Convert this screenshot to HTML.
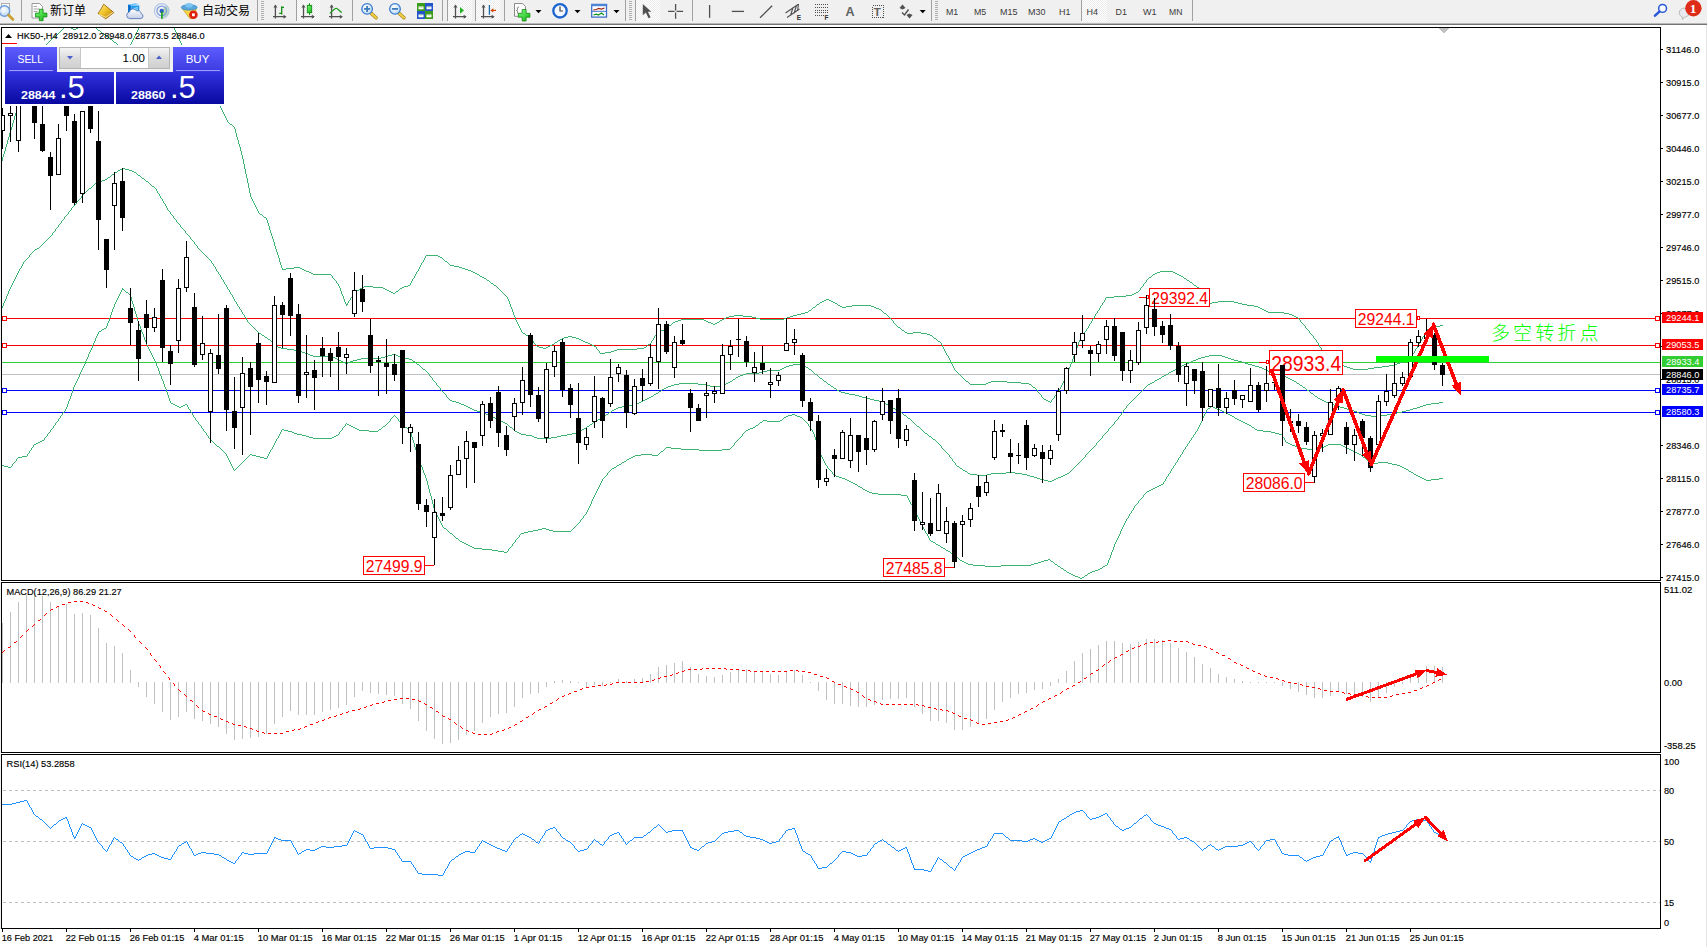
<!DOCTYPE html>
<html lang="zh"><head><meta charset="utf-8"><title>HK50-,H4</title>
<style>html,body{margin:0;padding:0;background:#f0f0f0;overflow:hidden}body{width:1707px;height:947px;position:relative}svg{position:absolute;left:0;top:0;display:block}text{font-family:"Liberation Sans", "Noto Sans CJK SC", sans-serif;white-space:pre}.ax{font-size:9.8px;fill:#000;stroke:#000;stroke-width:.15px}.lb{font-size:9.8px;fill:#fff}.tb{font-size:9.8px;fill:#3a3a3a}.cj{font-size:12px;fill:#000}</style></head><body>
<svg width="1707" height="947" viewBox="0 0 1707 947">
<defs>
<clipPath id="cm"><rect x="2" y="28" width="1658" height="552"/></clipPath>
<clipPath id="cd"><rect x="2" y="583" width="1658" height="169"/></clipPath>
<clipPath id="cr"><rect x="2" y="755" width="1658" height="173"/></clipPath>
<linearGradient id="gb1" x1="0" y1="0" x2="0" y2="1"><stop offset="0" stop-color="#5c5cff"/><stop offset="1" stop-color="#3a3ae0"/></linearGradient>
<linearGradient id="gb2" x1="0" y1="0" x2="0" y2="1"><stop offset="0" stop-color="#3232e0"/><stop offset="1" stop-color="#0808a0"/></linearGradient>
<linearGradient id="gsp" x1="0" y1="0" x2="0" y2="1"><stop offset="0" stop-color="#f4f4f4"/><stop offset="0.5" stop-color="#dcdcdc"/><stop offset="1" stop-color="#cfcfcf"/></linearGradient>
</defs>
<rect x="0" y="0" width="1707" height="947" fill="#f0f0f0"/>
<rect x="0" y="23" width="1707" height="1" fill="#b8b8b8"/>
<rect x="0" y="24" width="1707" height="1" fill="#747474"/>
<rect x="0" y="25" width="1707" height="3" fill="#ffffff"/>
<rect x="2" y="28" width="1705" height="919" fill="#fff"/>
<rect x="0" y="929" width="2" height="18" fill="#fff"/>
<rect x="1706" y="25" width="1" height="922" fill="#e6e6e6"/>
<rect x="0" y="27" width="1" height="902" fill="#f0f0f0"/>
<defs>
<linearGradient id="gold" x1="0" y1="0" x2="1" y2="1"><stop offset="0" stop-color="#fff2a8"/><stop offset=".45" stop-color="#f0c428"/><stop offset="1" stop-color="#b87a0c"/></linearGradient>
<linearGradient id="grn" x1="0" y1="0" x2="1" y2="1"><stop offset="0" stop-color="#80ff80"/><stop offset="1" stop-color="#10b010"/></linearGradient>
<linearGradient id="cld" x1="0" y1="0" x2="0" y2="1"><stop offset="0" stop-color="#ffffff"/><stop offset="1" stop-color="#c4d0e8"/></linearGradient>
<radialGradient id="lens" cx=".4" cy=".35" r=".7"><stop offset="0" stop-color="#ffffff"/><stop offset="1" stop-color="#b8d8f8"/></radialGradient>
<pattern id="chk" width="2" height="2" patternUnits="userSpaceOnUse"><rect width="2" height="2" fill="#ffffff"/><rect width="1" height="1" fill="#ececec"/><rect x="1" y="1" width="1" height="1" fill="#ececec"/></pattern>
</defs>
<g id="toolbar">
<rect x="21" y="0" width="1" height="21" fill="#a0a0a0" shape-rendering="crispEdges"/>
<rect x="257" y="0" width="1" height="21" fill="#a0a0a0" shape-rendering="crispEdges"/>
<rect x="352" y="0" width="1" height="21" fill="#a0a0a0" shape-rendering="crispEdges"/>
<rect x="442" y="0" width="1" height="21" fill="#a0a0a0" shape-rendering="crispEdges"/>
<rect x="504" y="0" width="1" height="21" fill="#a0a0a0" shape-rendering="crispEdges"/>
<rect x="625" y="0" width="1" height="21" fill="#a0a0a0" shape-rendering="crispEdges"/>
<rect x="692" y="0" width="1" height="21" fill="#a0a0a0" shape-rendering="crispEdges"/>
<rect x="931" y="0" width="1" height="21" fill="#a0a0a0" shape-rendering="crispEdges"/>
<rect x="1192" y="0" width="1" height="21" fill="#a0a0a0" shape-rendering="crispEdges"/>
<g shape-rendering="crispEdges" fill="#b0b0b0">
<rect x="261" y="1" width="3" height="1"/>
<rect x="261" y="3" width="3" height="1"/>
<rect x="261" y="5" width="3" height="1"/>
<rect x="261" y="7" width="3" height="1"/>
<rect x="261" y="9" width="3" height="1"/>
<rect x="261" y="11" width="3" height="1"/>
<rect x="261" y="13" width="3" height="1"/>
<rect x="261" y="15" width="3" height="1"/>
<rect x="261" y="17" width="3" height="1"/>
<rect x="261" y="19" width="3" height="1"/>
</g>
<g shape-rendering="crispEdges" fill="#b0b0b0">
<rect x="629" y="1" width="3" height="1"/>
<rect x="629" y="3" width="3" height="1"/>
<rect x="629" y="5" width="3" height="1"/>
<rect x="629" y="7" width="3" height="1"/>
<rect x="629" y="9" width="3" height="1"/>
<rect x="629" y="11" width="3" height="1"/>
<rect x="629" y="13" width="3" height="1"/>
<rect x="629" y="15" width="3" height="1"/>
<rect x="629" y="17" width="3" height="1"/>
<rect x="629" y="19" width="3" height="1"/>
</g>
<g shape-rendering="crispEdges" fill="#b0b0b0">
<rect x="935" y="1" width="3" height="1"/>
<rect x="935" y="3" width="3" height="1"/>
<rect x="935" y="5" width="3" height="1"/>
<rect x="935" y="7" width="3" height="1"/>
<rect x="935" y="9" width="3" height="1"/>
<rect x="935" y="11" width="3" height="1"/>
<rect x="935" y="13" width="3" height="1"/>
<rect x="935" y="15" width="3" height="1"/>
<rect x="935" y="17" width="3" height="1"/>
<rect x="935" y="19" width="3" height="1"/>
</g>
<rect x="1.500" y="3.500" width="8" height="10" fill="#fafafa" stroke="#b0b0b0"/>
<circle cx="4.500" cy="11" r="5.200" fill="url(#lens)" fill-opacity=".85" stroke="#6a9cd8" stroke-width="1.400"/>
<line x1="8.500" y1="15" x2="13" y2="19.500" stroke="#c8a030" stroke-width="2.600" stroke-linecap="round"/>
<path d="M32 3.500h7.500l3 3v11.500h-10.500z" fill="#fdfdfd" stroke="#909090" stroke-width=".9"/>
<path d="M33.500 6.500h3.500M33.500 9h6M33.500 11.500h4" stroke="#a8a8a8" stroke-width="1"/>
<path d="M39.300 9.300h3.800v3.800h3.800v3.800h-3.800v3.800h-3.800v-3.800h-3.800v-3.800h3.800z" fill="url(#grn)" stroke="#108a10" stroke-width=".8"/>
<text class="cj" x="50" y="14.500">新订单</text>
<path d="M103.700 4.200L113.800 12.600L105.800 18.800L98 13.400L101.200 8.800Z" fill="url(#gold)" stroke="#a06c0c" stroke-width=".9"/>
<path d="M99 14.500L105.800 17.300L113 12.400" fill="none" stroke="#fff4c0" stroke-width=".8"/>
<path d="M128 4.500L131.500 5.500V13.500L128 12Z" fill="#0870d0"/>
<path d="M128 4.500L135.500 3.200L139.300 4.300L131.500 5.500Z" fill="#70c8ff"/>
<rect x="131.500" y="5.500" width="7.800" height="8" fill="#1e9cf0"/>
<path d="M133.500 8.500l4.500-.8M133.500 10.500l4.500-.8" stroke="#d0ecff" stroke-width=".9"/>
<path d="M129.600 18.600a3.300 3.300 0 0 1-.3-6.500a3.900 3.900 0 0 1 7.300-1.100a3.200 3.200 0 0 1 4.600 2.700a2.500 2.500 0 0 1-.6 4.900z" fill="url(#cld)" stroke="#5878b8" stroke-width=".9"/>
<path d="M161.700 10.900V18.600A7.700 7.700 0 0 0 166.500 4.900Z" fill="#8cc88c" fill-opacity=".55"/>
<circle cx="161.700" cy="10.900" r="7.300" fill="none" stroke="#b4c6e8" stroke-width="1.100"/>
<circle cx="161.700" cy="10.900" r="4.800" fill="none" stroke="#7c9ce0" stroke-width="1.200"/>
<circle cx="161.700" cy="10.900" r="2.200" fill="#2c5cd0"/>
<rect x="161.100" y="11.500" width="1.600" height="7.300" fill="#18a018"/>
<path d="M182.300 8.500L196.200 8.500L194.500 18.500L189.800 18.500Z" fill="#f8d848" stroke="#c8a020" stroke-width=".8"/>
<ellipse cx="189.200" cy="7.400" rx="7.900" ry="2.700" fill="#58a8e0" stroke="#3684c4" stroke-width=".8"/>
<ellipse cx="189" cy="5.300" rx="3.700" ry="2.300" fill="#7cc4f2"/>
<circle cx="193.400" cy="14.800" r="4.300" fill="#e0200f"/>
<rect x="192" y="13.400" width="2.800" height="2.800" fill="#fff"/>
<text class="cj" x="202" y="14.500">自动交易</text>
<rect x="297" y="0" width="23" height="22" fill="url(#chk)" shape-rendering="crispEdges"/>
<rect x="296" y="0" width="1" height="21" fill="#a0a0a0" shape-rendering="crispEdges"/>
<path d="M275.4 5.500V18.600M273.0 16.700H285.5" stroke="#505050" stroke-width="1.300" fill="none"/>
<path d="M275.4 4.500l-2 3h4z" fill="#505050"/>
<path d="M286.5 16.700l-3-2v4z" fill="#505050"/>
<path d="M281.700 6.300V14.400M281.700 7.300h2.300M281.700 13.400h-2.500" stroke="#109010" stroke-width="1.300" fill="none"/>
<path d="M303.5 5.500V18.600M301.0 16.700H313.8" stroke="#505050" stroke-width="1.300" fill="none"/>
<path d="M303.5 4.500l-2 3h4z" fill="#505050"/>
<path d="M314.8 16.700l-3-2v4z" fill="#505050"/>
<path d="M309.500 3.200V14.800" stroke="#109010" stroke-width="1.100"/>
<rect x="307.300" y="5.400" width="4.400" height="7.300" fill="url(#grn)" stroke="#109010" stroke-width=".9"/>
<path d="M331.6 5.500V18.600M329.0 16.700H341.9" stroke="#505050" stroke-width="1.300" fill="none"/>
<path d="M331.6 4.500l-2 3h4z" fill="#505050"/>
<path d="M342.9 16.700l-3-2v4z" fill="#505050"/>
<path d="M329.900 13.400C333 10 335 8 336.500 8.300S340 11.500 341.800 12.500" stroke="#20a020" stroke-width="1.300" fill="none"/>
<line x1="371.1" y1="13.200" x2="376.1" y2="17.800" stroke="#a88420" stroke-width="3.400" stroke-linecap="round"/>
<line x1="371.1" y1="13.200" x2="376.1" y2="17.800" stroke="#f0d040" stroke-width="2" stroke-linecap="round"/>
<circle cx="367.1" cy="8.900" r="5.300" fill="url(#lens)" stroke="#3c7cd0" stroke-width="1.300"/>
<path d="M364.1 8.900h6" stroke="#3c7cb8" stroke-width="1.800"/>
<path d="M367.1 5.900v6" stroke="#3c7cb8" stroke-width="1.800"/>
<line x1="399.0" y1="13.200" x2="404.0" y2="17.800" stroke="#a88420" stroke-width="3.400" stroke-linecap="round"/>
<line x1="399.0" y1="13.200" x2="404.0" y2="17.800" stroke="#f0d040" stroke-width="2" stroke-linecap="round"/>
<circle cx="395.0" cy="8.900" r="5.300" fill="url(#lens)" stroke="#3c7cd0" stroke-width="1.300"/>
<path d="M392.0 8.900h6" stroke="#3c7cb8" stroke-width="1.800"/>
<rect x="417" y="3" width="8" height="8" fill="#3c9c1c"/><rect x="425" y="3" width="8" height="8" fill="#2454c8"/>
<rect x="417" y="11" width="8" height="8" fill="#2454c8"/><rect x="425" y="11" width="8" height="8" fill="#3c9c1c"/>
<path d="M418.500 7.800h5M426.500 7.800h5M418.500 15.800h5M426.500 15.800h5" stroke="#fff" stroke-width="2.800"/>
<path d="M419.500 7.200h3M427.500 7.200h3M419.500 15.200h3M427.500 15.200h3" stroke="#a8d0a0" stroke-width=".8"/>
<rect x="448" y="0" width="24" height="22" fill="url(#chk)" shape-rendering="crispEdges"/>
<rect x="447" y="0" width="1" height="21" fill="#a0a0a0" shape-rendering="crispEdges"/>
<rect x="476" y="0" width="24" height="22" fill="url(#chk)" shape-rendering="crispEdges"/>
<rect x="475" y="0" width="1" height="21" fill="#a0a0a0" shape-rendering="crispEdges"/>
<path d="M455.5 5.500V18.600M453.0 16.700H465.7" stroke="#505050" stroke-width="1.300" fill="none"/>
<path d="M455.5 4.500l-2 3h4z" fill="#505050"/>
<path d="M466.7 16.700l-3-2v4z" fill="#505050"/>
<polygon points="460,7 460,13.700 464,10.400" fill="#20b020"/>
<path d="M483.5 5.500V18.600M481.0 16.700H493.7" stroke="#505050" stroke-width="1.300" fill="none"/>
<path d="M483.5 4.500l-2 3h4z" fill="#505050"/>
<path d="M494.7 16.700l-3-2v4z" fill="#505050"/>
<path d="M489.400 5V14.700" stroke="#1868a8" stroke-width="1.300"/><path d="M496 10.400h-4" stroke="#d04808" stroke-width="1.200" fill="none"/><path d="M490.300 10.400l3-2.200v4.400z" fill="#d04808"/>
<path d="M514.500 3.500h8l3 3v9.800h-11z" fill="#fbfbfb" stroke="#808080" stroke-width=".9"/>
<path d="M519 7c-1.500 0-1.500 1-1.500 2s0 1.500-1 1.500c1 0 1 .5 1 1.500s0 2 1.500 2" fill="none" stroke="#606060" stroke-width=".8"/>
<path d="M522.200 9.500h3.900v3.800h3.800v3.900h-3.800v3.800h-3.900v-3.800h-3.800v-3.900h3.800z" fill="url(#grn)" stroke="#108a10" stroke-width=".8"/>
<polygon points="535.5,10 541.5,10 538.5,13.2" fill="#000"/>
<circle cx="560" cy="10.800" r="6.700" fill="#f4f8ff" stroke="#1c64d0" stroke-width="2.300"/>
<path d="M560 6.500v4.500h3" stroke="#404040" stroke-width="1.200" fill="none"/>
<polygon points="574.5,10 580.5,10 577.5,13.2" fill="#000"/>
<rect x="591.700" y="4.500" width="14.800" height="12.600" fill="#fff" stroke="#3c70c8" stroke-width="1.300"/>
<rect x="591" y="3.900" width="16.200" height="2.300" fill="#4c84d8"/>
<path d="M592 11.300h14" stroke="#3c70c8" stroke-width="1"/>
<path d="M593.500 9.800l3-.3 2-1.200 3 .8 3-1.100" stroke="#a02010" stroke-width="1.200" fill="none"/>
<path d="M593.500 15l3-.8 2 .8 3-2 2.500 2" stroke="#109020" stroke-width="1.200" fill="none"/>
<polygon points="613.5,10 619.5,10 616.5,13.2" fill="#000"/>
<rect x="636" y="0" width="24" height="22" fill="url(#chk)" shape-rendering="crispEdges"/>
<rect x="635" y="0" width="1" height="21" fill="#a0a0a0" shape-rendering="crispEdges"/>
<path d="M642.800 3.900V15.200L645.800 12.600L648.600 18.200L650.600 17.200L647.900 11.800H651.300Z" fill="#505050"/>
<path d="M675.600 3.900V10.400M675.600 12.400V18.700M668.100 11.400H674.600M676.600 11.400H683.100" stroke="#505050" stroke-width="1.300"/>
<path d="M709.600 5V17.800" stroke="#505050" stroke-width="1.300"/>
<path d="M731.800 11.400H744" stroke="#505050" stroke-width="1.300"/>
<path d="M760 17.800L772.100 5.800" stroke="#505050" stroke-width="1.300"/>
<path d="M785.500 13L798 4.500M787 17.500L799.500 9M790.500 15.500l2.500-8M794 13.500l2.500-8M797.500 11l1-7" stroke="#505050" stroke-width="1.100" fill="none"/>
<text x="796.800" y="19.600" font-size="6.500px" font-weight="bold" fill="#303030">E</text>
<path d="M815 4.500h13M815 7.300h13M815 10.100h13M815 12.900h13M815 15.700h9" stroke="#505050" stroke-width="1" stroke-dasharray="1 1" shape-rendering="crispEdges"/>
<text x="824.600" y="19.600" font-size="6.500px" font-weight="bold" fill="#303030">F</text>
<text x="845.500" y="16" font-size="12.500px" font-weight="bold" fill="#606060">A</text>
<rect x="872.500" y="5.500" width="11" height="12" fill="none" stroke="#505050" stroke-width="1" stroke-dasharray="1 1" shape-rendering="crispEdges"/>
<text x="873.800" y="16" font-size="11.500px" font-weight="bold" fill="#606060">T</text>
<path d="M899.500 8l3-3.500 3 3.500-3 1.500z" fill="#505050"/><path d="M906.500 15l3 3.500 3-3.500-3-1.500z" fill="#505050"/>
<path d="M902 12.500l2.500 2.500 4-5.500" stroke="#505050" stroke-width="1.400" fill="none"/>
<polygon points="919.7,10 925.7,10 922.7,13.2" fill="#000"/>
<rect x="1082" y="0" width="25" height="22" fill="url(#chk)" shape-rendering="crispEdges"/>
<rect x="1081" y="0" width="1" height="21" fill="#a0a0a0" shape-rendering="crispEdges"/>
<text class="tb" x="946.0" y="15" textLength="12.3" lengthAdjust="spacingAndGlyphs">M1</text>
<text class="tb" x="974.0" y="15" textLength="12.3" lengthAdjust="spacingAndGlyphs">M5</text>
<text class="tb" x="1000.0" y="15" textLength="17.4" lengthAdjust="spacingAndGlyphs">M15</text>
<text class="tb" x="1028.0" y="15" textLength="17.4" lengthAdjust="spacingAndGlyphs">M30</text>
<text class="tb" x="1059.0" y="15" textLength="11.4" lengthAdjust="spacingAndGlyphs">H1</text>
<text class="tb" x="1086.5" y="15" textLength="11.4" lengthAdjust="spacingAndGlyphs">H4</text>
<text class="tb" x="1115.5" y="15" textLength="11.4" lengthAdjust="spacingAndGlyphs">D1</text>
<text class="tb" x="1143.0" y="15" textLength="13.5" lengthAdjust="spacingAndGlyphs">W1</text>
<text class="tb" x="1169.0" y="15" textLength="13.4" lengthAdjust="spacingAndGlyphs">MN</text>
<circle cx="1662.600" cy="8.400" r="3.900" fill="#f8f8ff" stroke="#2858d8" stroke-width="1.500"/>
<path d="M1659.400 11.600l-4.400 4" stroke="#2858d8" stroke-width="2.600" stroke-linecap="round"/>
<path d="M1679.300 12.700c0-2.800 2.400-4.600 5-4.600s5 1.800 5 4.600-2.400 4.400-5 4.400l-1.800 2.400-.4-2.700c-1.800-.800-2.800-2.200-2.800-4.100z" fill="#e9e9f0" stroke="#b4b4b4" stroke-width=".9"/>
<circle cx="1693.400" cy="8.200" r="8.200" fill="#de2c18"/>
<text x="1693.200" y="13" font-size="13.500px" font-weight="bold" fill="#fff" text-anchor="middle" style="font-family:'Liberation Serif',serif">1</text>
</g>
<g shape-rendering="crispEdges" fill="#000">
<rect x="1" y="27" width="1660" height="1"/>
<rect x="1" y="27" width="1" height="902"/>
<rect x="1660" y="27" width="1" height="902"/>
<rect x="1" y="580" width="1660" height="1"/>
<rect x="1" y="582" width="1660" height="1"/>
<rect x="1" y="752" width="1660" height="1"/>
<rect x="1" y="754" width="1660" height="1"/>
<rect x="1" y="928" width="1660" height="1"/>
</g>
<rect x="1" y="581" width="1660" height="1" fill="#fff"/>
<rect x="1" y="753" width="1660" height="1" fill="#fff"/>
<g clip-path="url(#cm)">
<g shape-rendering="crispEdges">
<rect x="2" y="318" width="1658" height="1" fill="#ff0000"/>
<rect x="2" y="345" width="1658" height="1" fill="#ff0000"/>
<rect x="2" y="362" width="1658" height="1" fill="#32cd32"/>
<rect x="2" y="374" width="1658" height="1" fill="#c0c0c0"/>
<rect x="2" y="390" width="1658" height="1" fill="#0000ff"/>
<rect x="2" y="412" width="1658" height="1" fill="#0000ff"/>
</g>
<path d="M71 28.5h2M76 28.5h2M73 29.5h3M98 30.5h2M102 33.5h2M54 36.5h2M106 36.5h2M110 39.5h2M114 42.5h2M120 47.5h2M230 124.5h2M260 214.5h2M264 217.5h2M426 255.5h12M438 256.5h2M440 257.5h2M445 261.5h2M450 265.5h4M454 266.5h5M294 267.5h6M459 267.5h3M286 268.5h8M300 268.5h2M462 268.5h3M282 269.5h4M302 269.5h2M465 269.5h3M304 270.5h2M468 270.5h3M306 271.5h3M471 271.5h2M1160 271.5h13M309 272.5h2M473 272.5h2M1157 272.5h3M1173 272.5h2M311 273.5h2M475 273.5h2M1155 273.5h2M1175 273.5h2M313 274.5h18M477 274.5h2M1153 274.5h2M1177 274.5h2M1179 275.5h2M480 276.5h2M1181 276.5h2M482 277.5h2M1149 277.5h2M484 278.5h2M1184 278.5h2M487 280.5h2M1187 280.5h2M1190 282.5h2M491 283.5h2M408 285.5h2M494 285.5h2M1194 285.5h2M364 286.5h9M404 286.5h4M362 287.5h2M373 287.5h10M402 287.5h2M1197 287.5h2M360 288.5h2M383 288.5h2M400 288.5h2M385 289.5h2M357 290.5h2M387 290.5h2M355 291.5h2M389 291.5h2M396 291.5h2M391 292.5h2M1136 292.5h2M393 293.5h2M1134 293.5h2M1132 294.5h2M1126 295.5h6M1114 296.5h12M1106 297.5h8M826 299.5h3M824 300.5h2M829 300.5h2M822 301.5h2M831 301.5h2M1218 301.5h16M820 302.5h2M833 302.5h2M1212 302.5h6M1234 302.5h4M835 303.5h2M1209 303.5h3M1238 303.5h4M346 304.5h2M817 304.5h2M1242 304.5h5M838 305.5h2M852 305.5h19M1247 305.5h7M840 306.5h2M846 306.5h6M871 306.5h3M1254 306.5h4M813 307.5h2M842 307.5h4M874 307.5h2M1258 307.5h2M876 308.5h3M1260 308.5h2M879 309.5h2M1262 309.5h2M809 310.5h2M1264 310.5h2M1266 311.5h2M805 312.5h3M1268 312.5h16M801 313.5h4M884 313.5h2M1284 313.5h5M797 314.5h4M1289 314.5h3M734 315.5h9M793 315.5h4M1292 315.5h2M729 316.5h5M743 316.5h9M790 316.5h3M1294 316.5h2M726 317.5h3M752 317.5h4M787 317.5h3M1296 317.5h2M724 318.5h2M756 318.5h4M784 318.5h3M681 319.5h23M722 319.5h2M760 319.5h24M678 320.5h3M704 320.5h2M720 320.5h2M675 321.5h3M706 321.5h2M673 322.5h2M708 322.5h3M717 322.5h2M711 323.5h2M715 323.5h2M713 324.5h2M669 325.5h2M1440 325.5h3M1436 326.5h4M898 327.5h2M1433 327.5h3M1429 328.5h4M664 329.5h2M1427 329.5h2M661 330.5h3M902 330.5h2M659 331.5h2M657 332.5h2M905 332.5h2M913 332.5h8M523 333.5h2M907 333.5h6M921 333.5h6M927 334.5h3M526 335.5h2M930 335.5h2M568 336.5h4M564 337.5h4M572 337.5h4M562 338.5h2M576 338.5h3M934 338.5h2M560 339.5h2M579 339.5h2M558 340.5h2M581 340.5h2M583 341.5h2M938 341.5h2M555 342.5h2M585 342.5h3M588 343.5h2M552 344.5h2M590 344.5h2M648 344.5h2M550 345.5h2M592 345.5h2M537 346.5h2M548 346.5h2M594 346.5h2M539 347.5h4M546 347.5h2M644 347.5h2M543 348.5h3M637 348.5h7M617 349.5h20M614 350.5h3M611 351.5h3M605 352.5h6M600 353.5h5M1408 357.5h2M1331 359.5h2M1333 360.5h2M1403 361.5h2M1336 362.5h2M1400 362.5h3M1338 363.5h2M1397 363.5h3M1340 364.5h2M1394 364.5h3M1342 365.5h2M1389 365.5h5M1344 366.5h3M1382 366.5h7M1347 367.5h3M1374 367.5h8M1350 368.5h3M1368 368.5h6M1353 369.5h15M966 381.5h2M991 381.5h16M988 382.5h3M1007 382.5h14M986 383.5h2M1021 383.5h8M970 384.5h16M1029 384.5h2M1033 387.5h2M1044 399.5h2M1046 400.5h2M1048 401.5h2M2.5 157v4M3.5 154v3M4.5 151v3M5.5 147v4M6.5 144v3M7.5 140v4M8.5 137v3M9.5 133v4M10.5 130v3M11.5 127v3M12.5 123v4M13.5 120v3M14.5 116v4M15.5 113v3M16.5 111v2M17.5 109v2M18.5 107v2M19.5 104v3M20.5 102v2M21.5 100v2M22.5 98v2M23.5 95v3M24.5 93v2M25.5 91v2M26.5 89v2M27.5 86v3M28.5 84v2M29.5 82v2M30.5 80v2M31.5 77v3M32.5 75v2M33.5 73v2M34.5 70v3M35.5 68v2M36.5 66v2M37.5 64v2M38.5 61v3M39.5 59v2M40.5 57v2M41.5 55v2M42.5 52v3M43.5 50v2M44.5 48v2M45.5 46v2M46.5 44v2M47.5 43v1M48.5 42v1M49.5 41v1M50.5 40v1M51.5 39v1M52.5 38v1M53.5 37v1M56.5 35v1M57.5 34v1M58.5 33v1M59.5 32v1M60.5 31v1M61.5 30v1M62.5 29v1M63.5 28v1M96.5 28v1M97.5 29v1M100.5 31v1M101.5 32v1M104.5 34v1M105.5 35v1M108.5 37v1M109.5 38v1M112.5 40v1M113.5 41v1M116.5 43v1M117.5 44v1M118.5 45v1M119.5 46v1M122.5 48v1M123.5 49v1M124.5 50v1M125.5 49v1M126.5 48v1M127.5 47v1M128.5 46v1M129.5 45v1M130.5 44v1M131.5 42v2M132.5 40v2M133.5 38v2M134.5 36v2M135.5 34v2M136.5 32v2M137.5 30v2M138.5 28v2M174.5 28v2M175.5 30v2M176.5 32v2M177.5 34v2M178.5 36v3M179.5 39v2M180.5 41v2M181.5 43v2M182.5 45v2M183.5 47v1M184.5 48v2M185.5 50v2M186.5 52v1M187.5 53v2M188.5 55v1M189.5 56v2M190.5 58v2M191.5 60v1M192.5 61v2M193.5 63v1M194.5 64v2M195.5 66v2M196.5 68v1M197.5 69v2M198.5 71v1M199.5 72v2M200.5 74v1M201.5 75v2M202.5 77v2M203.5 79v1M204.5 80v2M205.5 82v1M206.5 83v2M207.5 85v2M208.5 87v1M209.5 88v2M210.5 90v1M211.5 91v2M212.5 93v2M213.5 95v1M214.5 96v2M215.5 98v1M216.5 99v2M217.5 101v2M218.5 103v1M219.5 104v2M220.5 106v2M221.5 108v2M222.5 110v2M223.5 112v2M224.5 114v2M225.5 116v2M226.5 118v2M227.5 120v2M228.5 122v1M229.5 123v1M232.5 125v1M233.5 126v1M234.5 127v2M235.5 129v4M236.5 133v4M237.5 137v3M238.5 140v4M239.5 144v3M240.5 147v4M241.5 151v4M242.5 155v4M243.5 159v5M244.5 164v5M245.5 169v5M246.5 174v4M247.5 178v5M248.5 183v5M249.5 188v5M250.5 193v4M251.5 197v2M252.5 199v2M253.5 201v2M254.5 203v2M255.5 205v2M256.5 207v2M257.5 209v2M258.5 211v2M259.5 213v1M262.5 215v1M263.5 216v1M266.5 218v2M267.5 220v3M268.5 223v3M269.5 226v4M270.5 230v3M271.5 233v3M272.5 236v3M273.5 239v3M274.5 242v4M275.5 246v3M276.5 249v3M277.5 252v3M278.5 255v3M279.5 258v4M280.5 262v3M281.5 265v3M282.5 268v1M331.5 275v1M332.5 276v2M333.5 278v1M334.5 279v1M335.5 280v1M336.5 281v2M337.5 283v1M338.5 284v2M339.5 286v2M340.5 288v3M341.5 291v3M342.5 294v2M343.5 296v3M344.5 299v3M345.5 302v2M346.5 305v1M347.5 303v1M348.5 301v2M349.5 300v1M350.5 298v2M351.5 297v1M352.5 295v2M353.5 293v2M354.5 292v1M359.5 289v1M395.5 292v1M398.5 290v1M399.5 289v1M410.5 283v2M411.5 281v2M412.5 279v2M413.5 278v1M414.5 276v2M415.5 274v2M416.5 272v2M417.5 271v1M418.5 269v2M419.5 267v2M420.5 265v2M421.5 263v2M422.5 262v1M423.5 260v2M424.5 258v2M425.5 256v2M442.5 258v1M443.5 259v1M444.5 260v1M447.5 262v1M448.5 263v1M449.5 264v1M479.5 275v1M486.5 279v1M489.5 281v1M490.5 282v1M493.5 284v1M496.5 286v1M497.5 287v1M498.5 288v1M499.5 289v1M500.5 290v1M501.5 291v1M502.5 292v1M503.5 293v1M504.5 294v1M505.5 295v1M506.5 296v1M507.5 297v2M508.5 299v2M509.5 301v3M510.5 304v3M511.5 307v2M512.5 309v3M513.5 312v3M514.5 315v2M515.5 317v3M516.5 320v2M517.5 322v2M518.5 324v2M519.5 326v2M520.5 328v2M521.5 330v2M522.5 332v1M525.5 334v1M528.5 336v1M529.5 337v1M530.5 338v1M531.5 339v1M532.5 340v1M533.5 341v2M534.5 343v1M535.5 344v1M536.5 345v1M554.5 343v1M557.5 341v1M596.5 347v2M597.5 349v1M598.5 350v1M599.5 351v2M646.5 346v1M647.5 345v1M650.5 343v1M651.5 341v2M652.5 340v1M653.5 338v2M654.5 336v2M655.5 335v1M656.5 333v2M666.5 328v1M667.5 327v1M668.5 326v1M671.5 324v1M672.5 323v1M719.5 321v1M808.5 311v1M811.5 309v1M812.5 308v1M815.5 306v1M816.5 305v1M819.5 303v1M837.5 304v1M881.5 310v1M882.5 311v1M883.5 312v1M886.5 314v1M887.5 315v1M888.5 316v1M889.5 317v1M890.5 318v1M891.5 319v1M892.5 320v1M893.5 321v2M894.5 323v1M895.5 324v1M896.5 325v1M897.5 326v1M900.5 328v1M901.5 329v1M904.5 331v1M932.5 336v1M933.5 337v1M936.5 339v1M937.5 340v1M940.5 342v1M941.5 343v2M942.5 345v2M943.5 347v2M944.5 349v2M945.5 351v2M946.5 353v2M947.5 355v1M948.5 356v2M949.5 358v2M950.5 360v2M951.5 362v2M952.5 364v2M953.5 366v2M954.5 368v2M955.5 370v1M956.5 371v1M957.5 372v1M958.5 373v1M959.5 374v1M960.5 375v1M961.5 376v1M962.5 377v1M963.5 378v1M964.5 379v1M965.5 380v1M968.5 382v1M969.5 383v1M1031.5 385v1M1032.5 386v1M1035.5 388v1M1036.5 389v1M1037.5 390v2M1038.5 392v1M1039.5 393v1M1040.5 394v1M1041.5 395v2M1042.5 397v1M1043.5 398v1M1050.5 402v1M1051.5 400v2M1052.5 399v1M1053.5 398v1M1054.5 396v2M1055.5 395v1M1056.5 394v1M1057.5 392v2M1058.5 391v1M1059.5 389v2M1060.5 387v2M1061.5 385v2M1062.5 383v2M1063.5 381v2M1064.5 379v2M1065.5 376v3M1066.5 374v2M1067.5 371v3M1068.5 369v2M1069.5 367v2M1070.5 364v3M1071.5 362v2M1072.5 359v3M1073.5 356v3M1074.5 353v3M1075.5 351v2M1076.5 348v3M1077.5 345v3M1078.5 342v3M1079.5 340v2M1080.5 338v2M1081.5 337v1M1082.5 335v2M1083.5 334v1M1084.5 332v2M1085.5 331v1M1086.5 329v2M1087.5 328v1M1088.5 326v2M1089.5 324v2M1090.5 323v1M1091.5 321v2M1092.5 319v2M1093.5 318v1M1094.5 316v2M1095.5 314v2M1096.5 313v1M1097.5 311v2M1098.5 310v1M1099.5 308v2M1100.5 306v2M1101.5 305v1M1102.5 303v2M1103.5 302v1M1104.5 300v2M1105.5 298v2M1138.5 291v1M1139.5 290v1M1140.5 288v2M1141.5 287v1M1142.5 286v1M1143.5 284v2M1144.5 283v1M1145.5 282v1M1146.5 280v2M1147.5 279v1M1148.5 278v1M1151.5 276v1M1152.5 275v1M1183.5 277v1M1186.5 279v1M1189.5 281v1M1192.5 283v1M1193.5 284v1M1196.5 286v1M1199.5 288v1M1200.5 289v2M1201.5 291v1M1202.5 292v2M1203.5 294v1M1204.5 295v2M1205.5 297v1M1206.5 298v2M1207.5 300v1M1208.5 301v2M1298.5 318v1M1299.5 319v1M1300.5 320v2M1301.5 322v1M1302.5 323v1M1303.5 324v1M1304.5 325v1M1305.5 326v2M1306.5 328v1M1307.5 329v1M1308.5 330v1M1309.5 331v2M1310.5 333v1M1311.5 334v1M1312.5 335v1M1313.5 336v2M1314.5 338v1M1315.5 339v1M1316.5 340v2M1317.5 342v1M1318.5 343v2M1319.5 345v2M1320.5 347v1M1321.5 348v2M1322.5 350v1M1323.5 351v1M1324.5 352v1M1325.5 353v1M1326.5 354v1M1327.5 355v1M1328.5 356v1M1329.5 357v1M1330.5 358v1M1335.5 361v1M1405.5 360v1M1406.5 359v1M1407.5 358v1M1410.5 356v1M1411.5 355v1M1412.5 354v1M1413.5 353v1M1414.5 351v2M1415.5 349v2M1416.5 348v1M1417.5 346v2M1418.5 344v2M1419.5 342v2M1420.5 341v1M1421.5 339v2M1422.5 337v2M1423.5 336v1M1424.5 334v2M1425.5 332v2M1426.5 330v2" fill="none" stroke="#3cb371" stroke-width="1" shape-rendering="crispEdges"/>
<path d="M122 168.5h3M120 169.5h2M125 169.5h4M118 170.5h2M129 170.5h3M132 171.5h2M115 172.5h2M134 172.5h2M112 174.5h2M138 175.5h2M108 177.5h2M142 178.5h2M105 179.5h2M102 180.5h3M100 181.5h2M146 181.5h2M97 182.5h3M95 183.5h2M152 186.5h2M89 188.5h2M37 248.5h2M35 249.5h2M259 333.5h2M262 335.5h2M265 337.5h2M268 339.5h2M274 344.5h2M278 347.5h3M281 348.5h6M287 349.5h7M294 350.5h6M300 351.5h2M302 352.5h3M305 353.5h3M308 354.5h2M392 354.5h4M310 355.5h3M388 355.5h4M396 355.5h2M1209 355.5h13M313 356.5h20M385 356.5h3M398 356.5h3M1205 356.5h4M1222 356.5h3M333 357.5h2M381 357.5h4M401 357.5h4M1201 357.5h4M1225 357.5h3M335 358.5h2M361 358.5h20M405 358.5h4M1198 358.5h3M1228 358.5h3M337 359.5h2M357 359.5h4M409 359.5h3M1196 359.5h2M1231 359.5h3M339 360.5h2M353 360.5h4M1193 360.5h3M1234 360.5h4M341 361.5h2M350 361.5h3M413 361.5h2M1191 361.5h2M1238 361.5h4M343 362.5h2M348 362.5h2M1189 362.5h2M1242 362.5h3M345 363.5h3M1186 363.5h3M1245 363.5h3M417 364.5h2M793 364.5h9M1184 364.5h2M1248 364.5h4M789 365.5h4M802 365.5h2M1182 365.5h2M1252 365.5h3M786 366.5h3M804 366.5h2M1180 366.5h2M1255 366.5h4M784 367.5h2M806 367.5h2M1178 367.5h2M1259 367.5h3M782 368.5h2M1176 368.5h2M1262 368.5h2M423 369.5h2M780 369.5h2M809 369.5h2M1264 369.5h2M767 370.5h13M1173 370.5h2M1266 370.5h2M1270 370.5h2M763 371.5h4M1171 371.5h2M1268 371.5h2M1272 371.5h2M759 372.5h4M1169 372.5h2M1274 372.5h3M746 373.5h13M1277 373.5h2M743 374.5h3M815 374.5h2M1166 374.5h2M1279 374.5h2M740 375.5h3M1164 375.5h2M1281 375.5h2M738 376.5h2M1162 376.5h2M1283 376.5h3M736 377.5h2M1286 377.5h2M820 378.5h2M1159 378.5h2M1288 378.5h2M733 379.5h2M1157 379.5h2M1290 379.5h2M1155 380.5h2M1292 380.5h2M730 381.5h2M824 381.5h2M1294 381.5h2M728 382.5h2M1152 382.5h2M679 383.5h19M726 383.5h2M1150 383.5h2M1297 383.5h2M674 384.5h5M698 384.5h8M724 384.5h2M828 384.5h2M1148 384.5h2M671 385.5h3M706 385.5h4M722 385.5h2M1300 385.5h2M668 386.5h3M710 386.5h12M831 386.5h2M666 387.5h2M1303 387.5h2M664 388.5h2M834 388.5h2M662 389.5h2M837 390.5h2M1307 390.5h2M659 391.5h2M839 391.5h2M841 392.5h4M656 393.5h2M845 393.5h4M1311 393.5h2M654 394.5h2M849 394.5h6M855 395.5h4M651 396.5h2M859 396.5h3M1315 396.5h2M649 397.5h2M862 397.5h4M647 398.5h2M866 398.5h4M1318 398.5h2M645 399.5h2M870 399.5h4M1320 399.5h2M450 400.5h2M643 400.5h2M874 400.5h5M1322 400.5h2M452 401.5h4M641 401.5h2M879 401.5h3M1324 401.5h2M456 402.5h3M639 402.5h2M882 402.5h2M1326 402.5h2M1439 402.5h4M459 403.5h2M636 403.5h3M884 403.5h2M1328 403.5h3M1431 403.5h8M461 404.5h3M634 404.5h2M886 404.5h2M1331 404.5h3M1426 404.5h5M464 405.5h2M628 405.5h6M888 405.5h2M1334 405.5h3M1423 405.5h3M466 406.5h2M622 406.5h6M1337 406.5h3M1420 406.5h3M468 407.5h2M618 407.5h4M891 407.5h2M1340 407.5h4M1417 407.5h3M470 408.5h2M616 408.5h2M893 408.5h2M1344 408.5h3M1413 408.5h4M472 409.5h2M614 409.5h2M1347 409.5h4M1410 409.5h3M474 410.5h3M612 410.5h2M896 410.5h2M1351 410.5h3M1406 410.5h4M477 411.5h4M898 411.5h2M1354 411.5h3M1402 411.5h4M481 412.5h3M609 412.5h2M900 412.5h2M1357 412.5h2M1397 412.5h5M484 413.5h2M1359 413.5h3M1393 413.5h4M486 414.5h3M606 414.5h2M1362 414.5h3M1387 414.5h6M489 415.5h2M604 415.5h2M904 415.5h2M1365 415.5h6M1379 415.5h8M491 416.5h2M1371 416.5h8M493 417.5h2M601 417.5h2M495 418.5h2M908 418.5h2M497 419.5h2M598 419.5h2M499 420.5h2M596 420.5h2M501 421.5h2M503 422.5h2M593 422.5h2M505 423.5h2M590 424.5h2M587 426.5h2M917 426.5h2M510 427.5h2M584 428.5h2M582 429.5h2M515 431.5h2M579 431.5h2M517 432.5h2M576 432.5h3M519 433.5h2M572 433.5h4M925 433.5h2M521 434.5h5M567 434.5h5M526 435.5h6M561 435.5h6M532 436.5h2M557 436.5h4M929 436.5h2M534 437.5h3M551 437.5h6M537 438.5h14M933 439.5h2M957 466.5h2M960 468.5h2M963 470.5h2M965 471.5h2M1006 472.5h9M968 473.5h2M991 473.5h15M1015 473.5h7M1067 473.5h2M970 474.5h7M987 474.5h4M1022 474.5h5M1065 474.5h2M977 475.5h10M1027 475.5h3M1063 475.5h2M1030 476.5h4M1061 476.5h2M1034 477.5h3M1058 477.5h3M1037 478.5h3M1056 478.5h2M1040 479.5h4M1054 479.5h2M1044 480.5h4M1052 480.5h2M1048 481.5h4M2.5 306v2M3.5 303v3M4.5 301v2M5.5 299v2M6.5 296v3M7.5 294v2M8.5 291v3M9.5 289v2M10.5 287v2M11.5 285v2M12.5 283v2M13.5 281v2M14.5 279v2M15.5 277v2M16.5 275v2M17.5 273v2M18.5 271v2M19.5 269v2M20.5 268v1M21.5 266v2M22.5 264v2M23.5 262v2M24.5 261v1M25.5 260v1M26.5 259v1M27.5 258v1M28.5 257v1M29.5 255v2M30.5 254v1M31.5 253v1M32.5 252v1M33.5 251v1M34.5 250v1M39.5 247v1M40.5 246v1M41.5 245v1M42.5 244v1M43.5 243v1M44.5 242v1M45.5 241v1M46.5 240v1M47.5 239v1M48.5 238v1M49.5 237v1M50.5 236v1M51.5 235v1M52.5 233v2M53.5 232v1M54.5 231v1M55.5 229v2M56.5 228v1M57.5 227v1M58.5 225v2M59.5 224v1M60.5 223v1M61.5 221v2M62.5 220v1M63.5 219v1M64.5 217v2M65.5 216v1M66.5 215v1M67.5 214v1M68.5 212v2M69.5 211v1M70.5 210v1M71.5 208v2M72.5 207v1M73.5 206v1M74.5 205v1M75.5 204v1M76.5 202v2M77.5 201v1M78.5 200v1M79.5 199v1M80.5 198v1M81.5 196v2M82.5 195v1M83.5 194v1M84.5 193v1M85.5 192v1M86.5 191v1M87.5 190v1M88.5 189v1M91.5 187v1M92.5 186v1M93.5 185v1M94.5 184v1M107.5 178v1M110.5 176v1M111.5 175v1M114.5 173v1M117.5 171v1M136.5 173v1M137.5 174v1M140.5 176v1M141.5 177v1M144.5 179v1M145.5 180v1M148.5 182v1M149.5 183v1M150.5 184v1M151.5 185v1M154.5 187v1M155.5 188v1M156.5 189v2M157.5 191v2M158.5 193v1M159.5 194v2M160.5 196v2M161.5 198v1M162.5 199v2M163.5 201v2M164.5 203v1M165.5 204v2M166.5 206v2M167.5 208v2M168.5 210v1M169.5 211v1M170.5 212v2M171.5 214v1M172.5 215v1M173.5 216v2M174.5 218v1M175.5 219v1M176.5 220v2M177.5 222v1M178.5 223v1M179.5 224v1M180.5 225v2M181.5 227v1M182.5 228v1M183.5 229v1M184.5 230v1M185.5 231v2M186.5 233v1M187.5 234v1M188.5 235v1M189.5 236v1M190.5 237v2M191.5 239v1M192.5 240v1M193.5 241v1M194.5 242v2M195.5 244v1M196.5 245v1M197.5 246v2M198.5 248v1M199.5 249v1M200.5 250v1M201.5 251v1M202.5 252v1M203.5 253v1M204.5 254v1M205.5 255v1M206.5 256v1M207.5 257v1M208.5 258v1M209.5 259v1M210.5 260v1M211.5 261v2M212.5 263v1M213.5 264v2M214.5 266v1M215.5 267v2M216.5 269v2M217.5 271v1M218.5 272v2M219.5 274v1M220.5 275v2M221.5 277v2M222.5 279v1M223.5 280v2M224.5 282v2M225.5 284v1M226.5 285v2M227.5 287v2M228.5 289v1M229.5 290v2M230.5 292v2M231.5 294v1M232.5 295v2M233.5 297v2M234.5 299v2M235.5 301v1M236.5 302v2M237.5 304v2M238.5 306v1M239.5 307v2M240.5 309v1M241.5 310v2M242.5 312v2M243.5 314v1M244.5 315v2M245.5 317v1M246.5 318v2M247.5 320v2M248.5 322v1M249.5 323v1M250.5 324v1M251.5 325v1M252.5 326v1M253.5 327v1M254.5 328v1M255.5 329v1M256.5 330v1M257.5 331v1M258.5 332v1M261.5 334v1M264.5 336v1M267.5 338v1M270.5 340v1M271.5 341v1M272.5 342v1M273.5 343v1M276.5 345v1M277.5 346v1M412.5 360v1M415.5 362v1M416.5 363v1M419.5 365v1M420.5 366v1M421.5 367v1M422.5 368v1M425.5 370v1M426.5 371v1M427.5 372v1M428.5 373v1M429.5 374v2M430.5 376v1M431.5 377v1M432.5 378v2M433.5 380v1M434.5 381v1M435.5 382v1M436.5 383v2M437.5 385v1M438.5 386v1M439.5 387v1M440.5 388v2M441.5 390v1M442.5 391v1M443.5 392v1M444.5 393v1M445.5 394v1M446.5 395v2M447.5 397v1M448.5 398v1M449.5 399v1M507.5 424v1M508.5 425v1M509.5 426v1M512.5 428v1M513.5 429v1M514.5 430v1M581.5 430v1M586.5 427v1M589.5 425v1M592.5 423v1M595.5 421v1M600.5 418v1M603.5 416v1M608.5 413v1M611.5 411v1M653.5 395v1M658.5 392v1M661.5 390v1M732.5 380v1M735.5 378v1M808.5 368v1M811.5 370v1M812.5 371v1M813.5 372v1M814.5 373v1M817.5 375v1M818.5 376v1M819.5 377v1M822.5 379v1M823.5 380v1M826.5 382v1M827.5 383v1M830.5 385v1M833.5 387v1M836.5 389v1M890.5 406v1M895.5 409v1M902.5 413v1M903.5 414v1M906.5 416v1M907.5 417v1M910.5 419v1M911.5 420v1M912.5 421v1M913.5 422v1M914.5 423v1M915.5 424v1M916.5 425v1M919.5 427v1M920.5 428v1M921.5 429v1M922.5 430v1M923.5 431v1M924.5 432v1M927.5 434v1M928.5 435v1M931.5 437v1M932.5 438v1M935.5 440v1M936.5 441v1M937.5 442v1M938.5 443v1M939.5 444v1M940.5 445v1M941.5 446v2M942.5 448v1M943.5 449v1M944.5 450v1M945.5 451v1M946.5 452v1M947.5 453v1M948.5 454v1M949.5 455v2M950.5 457v1M951.5 458v1M952.5 459v2M953.5 461v1M954.5 462v1M955.5 463v2M956.5 465v1M959.5 467v1M962.5 469v1M967.5 472v1M1069.5 472v1M1070.5 471v1M1071.5 470v1M1072.5 469v1M1073.5 468v1M1074.5 467v1M1075.5 466v1M1076.5 465v1M1077.5 464v1M1078.5 463v1M1079.5 462v1M1080.5 461v1M1081.5 460v1M1082.5 459v1M1083.5 458v1M1084.5 457v1M1085.5 455v2M1086.5 454v1M1087.5 453v1M1088.5 452v1M1089.5 451v1M1090.5 450v1M1091.5 449v1M1092.5 448v1M1093.5 447v1M1094.5 446v1M1095.5 445v1M1096.5 443v2M1097.5 442v1M1098.5 441v1M1099.5 440v1M1100.5 439v1M1101.5 438v1M1102.5 436v2M1103.5 435v1M1104.5 434v1M1105.5 433v1M1106.5 432v1M1107.5 431v1M1108.5 429v2M1109.5 428v1M1110.5 427v1M1111.5 426v1M1112.5 425v1M1113.5 424v1M1114.5 422v2M1115.5 421v1M1116.5 420v1M1117.5 419v1M1118.5 417v2M1119.5 416v1M1120.5 415v1M1121.5 413v2M1122.5 412v1M1123.5 410v2M1124.5 409v1M1125.5 408v1M1126.5 406v2M1127.5 405v1M1128.5 404v1M1129.5 403v1M1130.5 402v1M1131.5 401v1M1132.5 400v1M1133.5 399v1M1134.5 398v1M1135.5 397v1M1136.5 396v1M1137.5 395v1M1138.5 394v1M1139.5 393v1M1140.5 392v1M1141.5 391v1M1142.5 390v1M1143.5 389v1M1144.5 388v1M1145.5 387v1M1146.5 386v1M1147.5 385v1M1154.5 381v1M1161.5 377v1M1168.5 373v1M1175.5 369v1M1296.5 382v1M1299.5 384v1M1302.5 386v1M1305.5 388v1M1306.5 389v1M1309.5 391v1M1310.5 392v1M1313.5 394v1M1314.5 395v1M1317.5 397v1" fill="none" stroke="#3cb371" stroke-width="1" shape-rendering="crispEdges"/>
<path d="M122 289.5h2M126 292.5h2M104 328.5h2M102 329.5h2M99 331.5h2M171 403.5h2M173 404.5h2M185 404.5h2M175 405.5h2M183 405.5h2M177 406.5h2M181 406.5h2M1211 406.5h2M179 407.5h2M1213 407.5h2M1208 408.5h2M1215 408.5h2M1217 409.5h3M1220 410.5h2M1222 411.5h2M1224 412.5h2M1226 413.5h2M792 414.5h3M1228 414.5h2M788 415.5h4M795 415.5h2M1230 415.5h2M786 416.5h2M797 416.5h3M1232 416.5h2M784 417.5h2M800 417.5h2M1235 418.5h2M1237 419.5h2M763 420.5h4M780 420.5h2M1239 420.5h2M767 421.5h13M1241 421.5h2M760 422.5h2M1243 422.5h2M1245 423.5h2M347 424.5h2M1247 424.5h2M349 425.5h2M756 425.5h2M1249 425.5h2M351 426.5h2M383 426.5h2M353 427.5h2M405 427.5h2M753 427.5h2M1252 427.5h2M355 428.5h2M750 428.5h3M282 429.5h2M357 429.5h2M379 429.5h2M748 429.5h2M1255 429.5h2M284 430.5h4M359 430.5h10M746 430.5h2M1257 430.5h6M288 431.5h4M369 431.5h9M1263 431.5h8M292 432.5h2M1271 432.5h4M294 433.5h3M1275 433.5h4M297 434.5h5M1279 434.5h3M302 435.5h4M336 435.5h2M306 436.5h3M334 436.5h2M309 437.5h4M332 437.5h2M313 438.5h19M42 440.5h2M40 441.5h2M38 442.5h2M1286 442.5h2M36 443.5h2M1288 443.5h2M34 444.5h2M1290 444.5h2M1328 444.5h13M1292 445.5h3M1326 445.5h2M1341 445.5h2M217 446.5h2M1295 446.5h2M1324 446.5h2M1343 446.5h2M666 447.5h5M1297 447.5h4M1319 447.5h5M1345 447.5h2M671 448.5h10M1301 448.5h6M1313 448.5h6M1347 448.5h2M681 449.5h18M722 449.5h8M1307 449.5h6M1349 449.5h2M699 450.5h23M1351 450.5h2M661 451.5h2M1353 451.5h2M1355 452.5h2M1357 453.5h2M250 454.5h2M641 454.5h11M1359 454.5h2M252 455.5h4M635 455.5h6M652 455.5h6M22 456.5h5M256 456.5h4M633 456.5h2M18 457.5h4M260 457.5h4M631 457.5h2M1363 457.5h2M264 458.5h3M629 458.5h2M627 459.5h2M624 461.5h2M1368 461.5h2M622 462.5h2M1378 462.5h10M1371 463.5h7M1388 463.5h4M619 464.5h2M1392 464.5h5M2 465.5h2M617 465.5h2M1397 465.5h3M4 466.5h4M1400 466.5h2M8 467.5h3M614 467.5h2M1402 467.5h2M612 468.5h2M1404 468.5h2M1406 469.5h2M1409 471.5h2M1411 472.5h2M1414 474.5h2M834 475.5h2M1416 475.5h2M836 476.5h3M1418 476.5h2M839 477.5h3M1420 477.5h2M842 478.5h3M1422 478.5h2M1439 478.5h4M845 479.5h2M1424 479.5h2M1431 479.5h8M847 480.5h2M1426 480.5h5M849 481.5h2M851 482.5h2M853 483.5h2M855 484.5h2M1161 484.5h2M1159 485.5h2M858 486.5h2M1157 486.5h2M860 487.5h2M1155 487.5h2M1153 488.5h2M863 489.5h2M1151 489.5h2M865 490.5h2M1149 490.5h2M867 491.5h2M1147 491.5h2M869 492.5h3M872 493.5h6M878 494.5h23M901 495.5h6M444 528.5h2M542 528.5h4M538 529.5h4M546 529.5h3M533 530.5h5M549 530.5h4M528 531.5h5M553 531.5h18M524 532.5h4M450 533.5h2M521 533.5h3M456 538.5h2M460 541.5h2M931 541.5h2M462 542.5h2M933 542.5h2M464 543.5h2M466 544.5h2M936 544.5h2M468 545.5h2M938 545.5h2M470 546.5h2M472 547.5h2M941 547.5h2M474 548.5h8M943 548.5h2M482 549.5h10M492 550.5h6M946 550.5h2M498 551.5h6M948 551.5h2M504 552.5h3M952 554.5h2M956 557.5h2M1048 559.5h2M960 560.5h2M1044 560.5h4M962 561.5h2M1041 561.5h3M1051 561.5h2M964 562.5h2M1038 562.5h3M966 563.5h2M1034 563.5h4M968 564.5h5M1031 564.5h3M1055 564.5h2M973 565.5h12M1001 565.5h30M1105 565.5h2M985 566.5h16M1058 566.5h2M1103 566.5h2M1061 568.5h2M1100 568.5h2M1098 569.5h2M1064 570.5h2M1095 570.5h3M1092 571.5h3M1067 572.5h2M1090 572.5h2M1069 573.5h2M1088 573.5h2M1071 574.5h2M1073 575.5h2M1085 575.5h2M1075 576.5h3M1078 577.5h2M1082 577.5h2M1080 578.5h2M11.5 466v1M12.5 464v2M13.5 463v1M14.5 462v1M15.5 461v1M16.5 459v2M17.5 458v1M27.5 454v2M28.5 453v1M29.5 451v2M30.5 450v1M31.5 448v2M32.5 447v1M33.5 445v2M44.5 438v2M45.5 437v1M46.5 436v1M47.5 434v2M48.5 433v1M49.5 432v1M50.5 430v2M51.5 429v1M52.5 428v1M53.5 426v2M54.5 425v1M55.5 423v2M56.5 422v1M57.5 421v1M58.5 419v2M59.5 418v1M60.5 416v2M61.5 415v1M62.5 413v2M63.5 412v1M64.5 411v1M65.5 409v2M66.5 407v2M67.5 404v3M68.5 401v3M69.5 399v2M70.5 396v3M71.5 393v3M72.5 390v3M73.5 387v3M74.5 385v2M75.5 383v2M76.5 381v2M77.5 379v2M78.5 377v2M79.5 374v3M80.5 372v2M81.5 370v2M82.5 368v2M83.5 366v2M84.5 364v2M85.5 361v3M86.5 359v2M87.5 357v2M88.5 354v3M89.5 352v2M90.5 350v2M91.5 348v2M92.5 345v3M93.5 343v2M94.5 341v2M95.5 338v3M96.5 336v2M97.5 334v2M98.5 332v2M101.5 330v1M106.5 326v2M107.5 323v3M108.5 321v2M109.5 318v3M110.5 315v3M111.5 312v3M112.5 309v3M113.5 307v2M114.5 304v3M115.5 302v2M116.5 300v2M117.5 298v2M118.5 296v2M119.5 294v2M120.5 292v2M121.5 290v2M122.5 288v1M124.5 290v1M125.5 291v1M128.5 293v1M129.5 294v1M130.5 295v2M131.5 297v4M132.5 301v3M133.5 304v3M134.5 307v4M135.5 311v3M136.5 314v3M137.5 317v4M138.5 321v3M139.5 324v2M140.5 326v3M141.5 329v3M142.5 332v2M143.5 334v3M144.5 337v3M145.5 340v2M146.5 342v3M147.5 345v2M148.5 347v2M149.5 349v2M150.5 351v2M151.5 353v2M152.5 355v2M153.5 357v2M154.5 359v2M155.5 361v2M156.5 363v3M157.5 366v2M158.5 368v3M159.5 371v3M160.5 374v2M161.5 376v3M162.5 379v2M163.5 381v3M164.5 384v3M165.5 387v2M166.5 389v3M167.5 392v3M168.5 395v3M169.5 398v3M170.5 401v2M187.5 405v2M188.5 407v2M189.5 409v1M190.5 410v2M191.5 412v1M192.5 413v2M193.5 415v2M194.5 417v1M195.5 418v2M196.5 420v1M197.5 421v1M198.5 422v2M199.5 424v1M200.5 425v1M201.5 426v2M202.5 428v1M203.5 429v2M204.5 431v1M205.5 432v1M206.5 433v2M207.5 435v1M208.5 436v2M209.5 438v1M210.5 439v1M211.5 440v1M212.5 441v1M213.5 442v1M214.5 443v1M215.5 444v1M216.5 445v1M219.5 447v1M220.5 448v1M221.5 449v1M222.5 450v1M223.5 451v1M224.5 452v1M225.5 453v1M226.5 454v2M227.5 456v2M228.5 458v2M229.5 460v2M230.5 462v2M231.5 464v2M232.5 466v2M233.5 468v2M234.5 470v1M235.5 469v1M236.5 468v1M237.5 467v1M238.5 466v1M239.5 465v1M240.5 464v1M241.5 463v1M242.5 462v1M243.5 461v1M244.5 460v1M245.5 459v1M246.5 458v1M247.5 457v1M248.5 456v1M249.5 455v1M267.5 456v2M268.5 454v2M269.5 452v2M270.5 450v2M271.5 449v1M272.5 447v2M273.5 445v2M274.5 443v2M275.5 441v2M276.5 439v2M277.5 438v1M278.5 436v2M279.5 434v2M280.5 432v2M281.5 430v2M338.5 434v1M339.5 432v2M340.5 431v1M341.5 430v1M342.5 428v2M343.5 427v1M344.5 426v1M345.5 424v2M346.5 423v1M378.5 430v1M381.5 428v1M382.5 427v1M385.5 425v1M386.5 424v1M387.5 423v1M388.5 422v1M389.5 421v1M390.5 419v2M391.5 418v1M392.5 417v1M393.5 416v1M394.5 415v1M395.5 416v1M396.5 417v1M397.5 418v1M398.5 419v2M399.5 421v1M400.5 422v1M401.5 423v1M402.5 424v1M403.5 425v1M404.5 426v1M407.5 428v1M408.5 429v1M409.5 430v1M410.5 431v2M411.5 433v4M412.5 437v3M413.5 440v3M414.5 443v4M415.5 447v3M416.5 450v4M417.5 454v3M418.5 457v2M419.5 459v3M420.5 462v3M421.5 465v2M422.5 467v3M423.5 470v3M424.5 473v2M425.5 475v3M426.5 478v3M427.5 481v4M428.5 485v4M429.5 489v4M430.5 493v3M431.5 496v4M432.5 500v4M433.5 504v4M434.5 508v3M435.5 511v2M436.5 513v2M437.5 515v2M438.5 517v2M439.5 519v2M440.5 521v2M441.5 523v2M442.5 525v2M443.5 527v1M446.5 529v1M447.5 530v1M448.5 531v1M449.5 532v1M452.5 534v1M453.5 535v1M454.5 536v1M455.5 537v1M458.5 539v1M459.5 540v1M507.5 551v1M508.5 549v2M509.5 548v1M510.5 547v1M511.5 546v1M512.5 544v2M513.5 543v1M514.5 542v1M515.5 540v2M516.5 539v1M517.5 538v1M518.5 537v1M519.5 535v2M520.5 534v1M571.5 530v1M572.5 529v1M573.5 528v1M574.5 527v1M575.5 526v1M576.5 525v1M577.5 524v1M578.5 523v1M579.5 522v1M580.5 520v2M581.5 519v1M582.5 518v1M583.5 516v2M584.5 515v1M585.5 514v1M586.5 512v2M587.5 510v2M588.5 508v2M589.5 506v2M590.5 504v2M591.5 501v3M592.5 499v2M593.5 497v2M594.5 495v2M595.5 493v2M596.5 491v2M597.5 489v2M598.5 487v2M599.5 485v2M600.5 483v2M601.5 481v2M602.5 479v2M603.5 478v1M604.5 477v1M605.5 476v1M606.5 475v1M607.5 473v2M608.5 472v1M609.5 471v1M610.5 470v1M611.5 469v1M616.5 466v1M621.5 463v1M626.5 460v1M658.5 454v1M659.5 453v1M660.5 452v1M663.5 450v1M664.5 449v1M665.5 448v1M730.5 448v1M731.5 447v1M732.5 446v1M733.5 445v1M734.5 443v2M735.5 442v1M736.5 441v1M737.5 440v1M738.5 439v1M739.5 438v1M740.5 437v1M741.5 436v1M742.5 434v2M743.5 433v1M744.5 432v1M745.5 431v1M755.5 426v1M758.5 424v1M759.5 423v1M762.5 421v1M782.5 419v1M783.5 418v1M802.5 418v1M803.5 419v1M804.5 420v1M805.5 421v1M806.5 422v1M807.5 423v1M808.5 424v2M809.5 426v1M810.5 427v2M811.5 429v1M812.5 430v2M813.5 432v2M814.5 434v3M815.5 437v3M816.5 440v4M817.5 444v3M818.5 447v3M819.5 450v3M820.5 453v2M821.5 455v2M822.5 457v2M823.5 459v2M824.5 461v2M825.5 463v2M826.5 465v1M827.5 466v2M828.5 468v1M829.5 469v1M830.5 470v1M831.5 471v1M832.5 472v2M833.5 474v1M857.5 485v1M862.5 488v1M907.5 496v2M908.5 498v2M909.5 500v2M910.5 502v2M911.5 504v1M912.5 505v2M913.5 507v2M914.5 509v2M915.5 511v2M916.5 513v2M917.5 515v2M918.5 517v2M919.5 519v2M920.5 521v2M921.5 523v2M922.5 525v2M923.5 527v2M924.5 529v2M925.5 531v2M926.5 533v1M927.5 534v2M928.5 536v2M929.5 538v2M930.5 540v1M935.5 543v1M940.5 546v1M945.5 549v1M950.5 552v1M951.5 553v1M954.5 555v1M955.5 556v1M958.5 558v1M959.5 559v1M1050.5 560v1M1053.5 562v1M1054.5 563v1M1057.5 565v1M1060.5 567v1M1063.5 569v1M1066.5 571v1M1084.5 576v1M1087.5 574v1M1102.5 567v1M1107.5 563v2M1108.5 560v3M1109.5 558v2M1110.5 555v3M1111.5 552v3M1112.5 550v2M1113.5 547v3M1114.5 544v3M1115.5 542v2M1116.5 540v2M1117.5 538v2M1118.5 536v2M1119.5 534v2M1120.5 531v3M1121.5 529v2M1122.5 527v2M1123.5 525v2M1124.5 523v2M1125.5 521v2M1126.5 519v2M1127.5 518v1M1128.5 516v2M1129.5 514v2M1130.5 513v1M1131.5 511v2M1132.5 510v1M1133.5 508v2M1134.5 506v2M1135.5 505v1M1136.5 504v1M1137.5 503v1M1138.5 501v2M1139.5 500v1M1140.5 499v1M1141.5 498v1M1142.5 497v1M1143.5 495v2M1144.5 494v1M1145.5 493v1M1146.5 492v1M1163.5 482v2M1164.5 481v1M1165.5 479v2M1166.5 477v2M1167.5 476v1M1168.5 474v2M1169.5 473v1M1170.5 471v2M1171.5 469v2M1172.5 468v1M1173.5 466v2M1174.5 465v1M1175.5 463v2M1176.5 462v1M1177.5 460v2M1178.5 458v2M1179.5 457v1M1180.5 455v2M1181.5 454v1M1182.5 452v2M1183.5 450v2M1184.5 449v1M1185.5 447v2M1186.5 446v1M1187.5 444v2M1188.5 443v1M1189.5 441v2M1190.5 440v1M1191.5 438v2M1192.5 437v1M1193.5 435v2M1194.5 434v1M1195.5 432v2M1196.5 431v1M1197.5 429v2M1198.5 427v2M1199.5 425v2M1200.5 423v2M1201.5 421v2M1202.5 418v3M1203.5 416v2M1204.5 414v2M1205.5 412v2M1206.5 410v2M1207.5 409v1M1210.5 407v1M1234.5 417v1M1251.5 426v1M1254.5 428v1M1282.5 435v2M1283.5 437v1M1284.5 438v2M1285.5 440v2M1361.5 455v1M1362.5 456v1M1365.5 458v1M1366.5 459v1M1367.5 460v1M1370.5 462v1M1408.5 470v1M1413.5 473v1" fill="none" stroke="#3cb371" stroke-width="1" shape-rendering="crispEdges"/>
<rect x="363.5" y="556.5" width="61.0" height="18.0" fill="#fff" stroke="#ff0000" stroke-width="1" shape-rendering="crispEdges"/>
<text x="394.2" y="572.0" font-size="16.5px" fill="#ff0000" text-anchor="middle" textLength="56.8" lengthAdjust="spacingAndGlyphs">27499.9</text>
<rect x="425.0" y="565.0" width="9.0" height="1" fill="#ff0000" shape-rendering="crispEdges"/>
<rect x="883.5" y="558.5" width="61.0" height="18.0" fill="#fff" stroke="#ff0000" stroke-width="1" shape-rendering="crispEdges"/>
<text x="914.2" y="574.0" font-size="16.5px" fill="#ff0000" text-anchor="middle" textLength="56.8" lengthAdjust="spacingAndGlyphs">27485.8</text>
<rect x="945.0" y="567.0" width="9.0" height="1" fill="#ff0000" shape-rendering="crispEdges"/>
<rect x="1149.5" y="288.5" width="60.0" height="18.0" fill="#fff" stroke="#ff0000" stroke-width="1" shape-rendering="crispEdges"/>
<text x="1179.7" y="304.0" font-size="16.5px" fill="#ff0000" text-anchor="middle" textLength="56.8" lengthAdjust="spacingAndGlyphs">29392.4</text>
<rect x="1139.0" y="297.0" width="8.0" height="1" fill="#ff0000" shape-rendering="crispEdges"/>
<rect x="1243.5" y="473.5" width="61.0" height="18.0" fill="#fff" stroke="#ff0000" stroke-width="1" shape-rendering="crispEdges"/>
<text x="1274.2" y="489.0" font-size="16.5px" fill="#ff0000" text-anchor="middle" textLength="56.8" lengthAdjust="spacingAndGlyphs">28086.0</text>
<rect x="1305.0" y="482.0" width="9.0" height="1" fill="#ff0000" shape-rendering="crispEdges"/>
<rect x="1355.5" y="309.5" width="61.0" height="18.0" fill="#fff" stroke="#ff0000" stroke-width="1" shape-rendering="crispEdges"/>
<text x="1386.2" y="325.0" font-size="16.5px" fill="#ff0000" text-anchor="middle" textLength="56.8" lengthAdjust="spacingAndGlyphs">29244.1</text>
<rect x="1269.5" y="350.5" width="73.0" height="24.0" fill="#fff" stroke="#ff0000" stroke-width="1" shape-rendering="crispEdges"/>
<text x="1306.2" y="371.0" font-size="22.0px" fill="#ff0000" text-anchor="middle" textLength="70.0" lengthAdjust="spacingAndGlyphs">28933.4</text>
<rect x="1259.0" y="362.0" width="10.0" height="1" fill="#ff0000" shape-rendering="crispEdges"/>
<g shape-rendering="crispEdges" fill="#fff" stroke="#ff0000">
<rect x="1417.5" y="316.5" width="2" height="3"/>
<rect x="1266.5" y="360.5" width="2" height="3"/>
<rect x="1146.5" y="295.5" width="2" height="3"/>
</g>
<text x="1491" y="339.5" font-size="19px" fill="#00ff00" style="font-family:'Liberation Sans','Noto Sans CJK SC',sans-serif;font-weight:300" letter-spacing="3.1">多空转折点</text>
<g shape-rendering="crispEdges">
<rect x="2" y="108" width="1" height="41" fill="#000"/>
<rect x="0" y="115" width="5" height="16" fill="#000"/>
<rect x="1" y="116" width="3" height="14" fill="#fff"/>
<rect x="10" y="78" width="1" height="64" fill="#000"/>
<rect x="8" y="113" width="5" height="3" fill="#000"/>
<rect x="9" y="114" width="3" height="1" fill="#fff"/>
<rect x="18" y="69" width="1" height="83" fill="#000"/>
<rect x="16" y="78" width="5" height="63" fill="#000"/>
<rect x="17" y="79" width="3" height="61" fill="#fff"/>
<rect x="34" y="73" width="1" height="66" fill="#000"/>
<rect x="32" y="80" width="5" height="43" fill="#000"/>
<rect x="42" y="87" width="1" height="65" fill="#000"/>
<rect x="40" y="124" width="5" height="27" fill="#000"/>
<rect x="50" y="152" width="1" height="58" fill="#000"/>
<rect x="48" y="157" width="5" height="19" fill="#000"/>
<rect x="58" y="124" width="1" height="51" fill="#000"/>
<rect x="56" y="138" width="5" height="37" fill="#000"/>
<rect x="57" y="139" width="3" height="35" fill="#fff"/>
<rect x="66" y="80" width="1" height="51" fill="#000"/>
<rect x="64" y="87" width="5" height="29" fill="#000"/>
<rect x="74" y="114" width="1" height="91" fill="#000"/>
<rect x="72" y="121" width="5" height="82" fill="#000"/>
<rect x="82" y="111" width="1" height="92" fill="#000"/>
<rect x="80" y="111" width="5" height="83" fill="#000"/>
<rect x="81" y="112" width="3" height="81" fill="#fff"/>
<rect x="90" y="78" width="1" height="55" fill="#000"/>
<rect x="88" y="82" width="5" height="47" fill="#000"/>
<rect x="98" y="111" width="1" height="139" fill="#000"/>
<rect x="96" y="141" width="5" height="79" fill="#000"/>
<rect x="106" y="239" width="1" height="49" fill="#000"/>
<rect x="104" y="239" width="5" height="31" fill="#000"/>
<rect x="114" y="172" width="1" height="78" fill="#000"/>
<rect x="112" y="183" width="5" height="23" fill="#000"/>
<rect x="113" y="184" width="3" height="21" fill="#fff"/>
<rect x="122" y="168" width="1" height="63" fill="#000"/>
<rect x="120" y="181" width="5" height="37" fill="#000"/>
<rect x="130" y="288" width="1" height="57" fill="#000"/>
<rect x="128" y="308" width="5" height="15" fill="#000"/>
<rect x="138" y="321" width="1" height="60" fill="#000"/>
<rect x="136" y="330" width="5" height="29" fill="#000"/>
<rect x="146" y="300" width="1" height="44" fill="#000"/>
<rect x="144" y="314" width="5" height="14" fill="#000"/>
<rect x="154" y="308" width="1" height="24" fill="#000"/>
<rect x="152" y="317" width="5" height="11" fill="#000"/>
<rect x="153" y="318" width="3" height="9" fill="#fff"/>
<rect x="162" y="269" width="1" height="93" fill="#000"/>
<rect x="160" y="280" width="5" height="68" fill="#000"/>
<rect x="170" y="345" width="1" height="40" fill="#000"/>
<rect x="168" y="351" width="5" height="13" fill="#000"/>
<rect x="178" y="279" width="1" height="74" fill="#000"/>
<rect x="176" y="288" width="5" height="53" fill="#000"/>
<rect x="177" y="289" width="3" height="51" fill="#fff"/>
<rect x="186" y="241" width="1" height="51" fill="#000"/>
<rect x="184" y="257" width="5" height="31" fill="#000"/>
<rect x="185" y="258" width="3" height="29" fill="#fff"/>
<rect x="194" y="293" width="1" height="74" fill="#000"/>
<rect x="192" y="307" width="5" height="58" fill="#000"/>
<rect x="202" y="316" width="1" height="44" fill="#000"/>
<rect x="200" y="343" width="5" height="12" fill="#000"/>
<rect x="201" y="344" width="3" height="10" fill="#fff"/>
<rect x="210" y="349" width="1" height="94" fill="#000"/>
<rect x="208" y="353" width="5" height="59" fill="#000"/>
<rect x="209" y="354" width="3" height="57" fill="#fff"/>
<rect x="218" y="314" width="1" height="60" fill="#000"/>
<rect x="216" y="355" width="5" height="14" fill="#000"/>
<rect x="226" y="305" width="1" height="126" fill="#000"/>
<rect x="224" y="308" width="5" height="102" fill="#000"/>
<rect x="234" y="377" width="1" height="72" fill="#000"/>
<rect x="232" y="411" width="5" height="17" fill="#000"/>
<rect x="242" y="357" width="1" height="98" fill="#000"/>
<rect x="240" y="373" width="5" height="35" fill="#000"/>
<rect x="241" y="374" width="3" height="33" fill="#fff"/>
<rect x="250" y="362" width="1" height="73" fill="#000"/>
<rect x="248" y="368" width="5" height="19" fill="#000"/>
<rect x="258" y="333" width="1" height="70" fill="#000"/>
<rect x="256" y="343" width="5" height="37" fill="#000"/>
<rect x="266" y="371" width="1" height="34" fill="#000"/>
<rect x="264" y="376" width="5" height="6" fill="#000"/>
<rect x="274" y="296" width="1" height="87" fill="#000"/>
<rect x="272" y="305" width="5" height="78" fill="#000"/>
<rect x="273" y="306" width="3" height="76" fill="#fff"/>
<rect x="282" y="302" width="1" height="46" fill="#000"/>
<rect x="280" y="305" width="5" height="10" fill="#000"/>
<rect x="290" y="273" width="1" height="63" fill="#000"/>
<rect x="288" y="278" width="5" height="38" fill="#000"/>
<rect x="298" y="304" width="1" height="99" fill="#000"/>
<rect x="296" y="314" width="5" height="82" fill="#000"/>
<rect x="306" y="335" width="1" height="63" fill="#000"/>
<rect x="304" y="372" width="5" height="3" fill="#000"/>
<rect x="305" y="373" width="3" height="1" fill="#fff"/>
<rect x="314" y="360" width="1" height="50" fill="#000"/>
<rect x="312" y="370" width="5" height="8" fill="#000"/>
<rect x="322" y="337" width="1" height="40" fill="#000"/>
<rect x="320" y="348" width="5" height="8" fill="#000"/>
<rect x="330" y="348" width="1" height="29" fill="#000"/>
<rect x="328" y="353" width="5" height="8" fill="#000"/>
<rect x="338" y="332" width="1" height="58" fill="#000"/>
<rect x="336" y="347" width="5" height="10" fill="#000"/>
<rect x="346" y="348" width="1" height="26" fill="#000"/>
<rect x="344" y="354" width="5" height="4" fill="#000"/>
<rect x="345" y="355" width="3" height="2" fill="#fff"/>
<rect x="354" y="272" width="1" height="45" fill="#000"/>
<rect x="352" y="290" width="5" height="24" fill="#000"/>
<rect x="353" y="291" width="3" height="22" fill="#fff"/>
<rect x="362" y="275" width="1" height="37" fill="#000"/>
<rect x="360" y="289" width="5" height="13" fill="#000"/>
<rect x="370" y="319" width="1" height="54" fill="#000"/>
<rect x="368" y="335" width="5" height="31" fill="#000"/>
<rect x="378" y="356" width="1" height="40" fill="#000"/>
<rect x="376" y="360" width="5" height="2" fill="#000"/>
<rect x="386" y="339" width="1" height="55" fill="#000"/>
<rect x="384" y="363" width="5" height="4" fill="#000"/>
<rect x="394" y="354" width="1" height="27" fill="#000"/>
<rect x="392" y="364" width="5" height="11" fill="#000"/>
<rect x="402" y="350" width="1" height="94" fill="#000"/>
<rect x="400" y="350" width="5" height="78" fill="#000"/>
<rect x="410" y="424" width="1" height="28" fill="#000"/>
<rect x="408" y="427" width="5" height="6" fill="#000"/>
<rect x="409" y="428" width="3" height="4" fill="#fff"/>
<rect x="418" y="432" width="1" height="78" fill="#000"/>
<rect x="416" y="444" width="5" height="60" fill="#000"/>
<rect x="426" y="499" width="1" height="28" fill="#000"/>
<rect x="424" y="505" width="5" height="7" fill="#000"/>
<rect x="434" y="499" width="1" height="66" fill="#000"/>
<rect x="432" y="512" width="5" height="26" fill="#000"/>
<rect x="433" y="513" width="3" height="24" fill="#fff"/>
<rect x="442" y="497" width="1" height="24" fill="#000"/>
<rect x="440" y="513" width="5" height="3" fill="#000"/>
<rect x="450" y="465" width="1" height="45" fill="#000"/>
<rect x="448" y="475" width="5" height="33" fill="#000"/>
<rect x="449" y="476" width="3" height="31" fill="#fff"/>
<rect x="458" y="446" width="1" height="29" fill="#000"/>
<rect x="456" y="460" width="5" height="15" fill="#000"/>
<rect x="457" y="461" width="3" height="13" fill="#fff"/>
<rect x="466" y="431" width="1" height="57" fill="#000"/>
<rect x="464" y="441" width="5" height="18" fill="#000"/>
<rect x="465" y="442" width="3" height="16" fill="#fff"/>
<rect x="474" y="442" width="1" height="41" fill="#000"/>
<rect x="472" y="442" width="5" height="6" fill="#000"/>
<rect x="482" y="401" width="1" height="45" fill="#000"/>
<rect x="480" y="404" width="5" height="32" fill="#000"/>
<rect x="481" y="405" width="3" height="30" fill="#fff"/>
<rect x="490" y="397" width="1" height="31" fill="#000"/>
<rect x="488" y="403" width="5" height="18" fill="#000"/>
<rect x="498" y="386" width="1" height="61" fill="#000"/>
<rect x="496" y="392" width="5" height="41" fill="#000"/>
<rect x="506" y="426" width="1" height="30" fill="#000"/>
<rect x="504" y="435" width="5" height="15" fill="#000"/>
<rect x="514" y="398" width="1" height="33" fill="#000"/>
<rect x="512" y="403" width="5" height="14" fill="#000"/>
<rect x="513" y="404" width="3" height="12" fill="#fff"/>
<rect x="522" y="367" width="1" height="48" fill="#000"/>
<rect x="520" y="380" width="5" height="23" fill="#000"/>
<rect x="521" y="381" width="3" height="21" fill="#fff"/>
<rect x="530" y="333" width="1" height="74" fill="#000"/>
<rect x="528" y="335" width="5" height="60" fill="#000"/>
<rect x="538" y="387" width="1" height="35" fill="#000"/>
<rect x="536" y="395" width="5" height="24" fill="#000"/>
<rect x="546" y="363" width="1" height="80" fill="#000"/>
<rect x="544" y="369" width="5" height="69" fill="#000"/>
<rect x="545" y="370" width="3" height="67" fill="#fff"/>
<rect x="554" y="346" width="1" height="31" fill="#000"/>
<rect x="552" y="351" width="5" height="16" fill="#000"/>
<rect x="553" y="352" width="3" height="14" fill="#fff"/>
<rect x="562" y="339" width="1" height="58" fill="#000"/>
<rect x="560" y="342" width="5" height="48" fill="#000"/>
<rect x="570" y="384" width="1" height="34" fill="#000"/>
<rect x="568" y="388" width="5" height="17" fill="#000"/>
<rect x="578" y="383" width="1" height="81" fill="#000"/>
<rect x="576" y="418" width="5" height="25" fill="#000"/>
<rect x="586" y="428" width="1" height="22" fill="#000"/>
<rect x="584" y="437" width="5" height="8" fill="#000"/>
<rect x="585" y="438" width="3" height="6" fill="#fff"/>
<rect x="594" y="376" width="1" height="52" fill="#000"/>
<rect x="592" y="396" width="5" height="26" fill="#000"/>
<rect x="593" y="397" width="3" height="24" fill="#fff"/>
<rect x="602" y="397" width="1" height="41" fill="#000"/>
<rect x="600" y="398" width="5" height="23" fill="#000"/>
<rect x="610" y="359" width="1" height="48" fill="#000"/>
<rect x="608" y="377" width="5" height="27" fill="#000"/>
<rect x="609" y="378" width="3" height="25" fill="#fff"/>
<rect x="618" y="364" width="1" height="18" fill="#000"/>
<rect x="616" y="367" width="5" height="7" fill="#000"/>
<rect x="617" y="368" width="3" height="5" fill="#fff"/>
<rect x="626" y="370" width="1" height="58" fill="#000"/>
<rect x="624" y="375" width="5" height="38" fill="#000"/>
<rect x="634" y="379" width="1" height="36" fill="#000"/>
<rect x="632" y="386" width="5" height="28" fill="#000"/>
<rect x="633" y="387" width="3" height="26" fill="#fff"/>
<rect x="642" y="369" width="1" height="32" fill="#000"/>
<rect x="640" y="378" width="5" height="8" fill="#000"/>
<rect x="650" y="344" width="1" height="42" fill="#000"/>
<rect x="648" y="357" width="5" height="27" fill="#000"/>
<rect x="649" y="358" width="3" height="25" fill="#fff"/>
<rect x="658" y="308" width="1" height="81" fill="#000"/>
<rect x="656" y="324" width="5" height="38" fill="#000"/>
<rect x="657" y="325" width="3" height="36" fill="#fff"/>
<rect x="666" y="321" width="1" height="33" fill="#000"/>
<rect x="664" y="324" width="5" height="28" fill="#000"/>
<rect x="674" y="336" width="1" height="42" fill="#000"/>
<rect x="672" y="342" width="5" height="26" fill="#000"/>
<rect x="673" y="343" width="3" height="24" fill="#fff"/>
<rect x="682" y="324" width="1" height="21" fill="#000"/>
<rect x="680" y="340" width="5" height="4" fill="#000"/>
<rect x="690" y="389" width="1" height="43" fill="#000"/>
<rect x="688" y="393" width="5" height="15" fill="#000"/>
<rect x="698" y="404" width="1" height="17" fill="#000"/>
<rect x="696" y="408" width="5" height="13" fill="#000"/>
<rect x="706" y="382" width="1" height="36" fill="#000"/>
<rect x="704" y="393" width="5" height="3" fill="#000"/>
<rect x="705" y="394" width="3" height="1" fill="#fff"/>
<rect x="714" y="386" width="1" height="17" fill="#000"/>
<rect x="712" y="391" width="5" height="3" fill="#000"/>
<rect x="713" y="392" width="3" height="1" fill="#fff"/>
<rect x="722" y="344" width="1" height="50" fill="#000"/>
<rect x="720" y="355" width="5" height="39" fill="#000"/>
<rect x="721" y="356" width="3" height="37" fill="#fff"/>
<rect x="730" y="340" width="1" height="30" fill="#000"/>
<rect x="728" y="346" width="5" height="9" fill="#000"/>
<rect x="729" y="347" width="3" height="7" fill="#fff"/>
<rect x="738" y="319" width="1" height="38" fill="#000"/>
<rect x="736" y="339" width="5" height="1" fill="#000"/>
<rect x="746" y="336" width="1" height="31" fill="#000"/>
<rect x="744" y="341" width="5" height="21" fill="#000"/>
<rect x="754" y="352" width="1" height="30" fill="#000"/>
<rect x="752" y="367" width="5" height="6" fill="#000"/>
<rect x="753" y="368" width="3" height="4" fill="#fff"/>
<rect x="762" y="346" width="1" height="28" fill="#000"/>
<rect x="760" y="363" width="5" height="7" fill="#000"/>
<rect x="770" y="368" width="1" height="30" fill="#000"/>
<rect x="768" y="382" width="5" height="3" fill="#000"/>
<rect x="769" y="383" width="3" height="1" fill="#fff"/>
<rect x="778" y="372" width="1" height="14" fill="#000"/>
<rect x="776" y="375" width="5" height="6" fill="#000"/>
<rect x="777" y="376" width="3" height="4" fill="#fff"/>
<rect x="786" y="318" width="1" height="33" fill="#000"/>
<rect x="784" y="343" width="5" height="8" fill="#000"/>
<rect x="785" y="344" width="3" height="6" fill="#fff"/>
<rect x="794" y="329" width="1" height="26" fill="#000"/>
<rect x="792" y="339" width="5" height="4" fill="#000"/>
<rect x="793" y="340" width="3" height="2" fill="#fff"/>
<rect x="802" y="353" width="1" height="54" fill="#000"/>
<rect x="800" y="355" width="5" height="46" fill="#000"/>
<rect x="810" y="398" width="1" height="33" fill="#000"/>
<rect x="808" y="402" width="5" height="19" fill="#000"/>
<rect x="818" y="415" width="1" height="73" fill="#000"/>
<rect x="816" y="421" width="5" height="59" fill="#000"/>
<rect x="826" y="469" width="1" height="17" fill="#000"/>
<rect x="824" y="478" width="5" height="4" fill="#000"/>
<rect x="825" y="479" width="3" height="2" fill="#fff"/>
<rect x="834" y="449" width="1" height="28" fill="#000"/>
<rect x="832" y="455" width="5" height="4" fill="#000"/>
<rect x="842" y="430" width="1" height="29" fill="#000"/>
<rect x="840" y="432" width="5" height="27" fill="#000"/>
<rect x="841" y="433" width="3" height="25" fill="#fff"/>
<rect x="850" y="418" width="1" height="50" fill="#000"/>
<rect x="848" y="435" width="5" height="26" fill="#000"/>
<rect x="849" y="436" width="3" height="24" fill="#fff"/>
<rect x="858" y="435" width="1" height="37" fill="#000"/>
<rect x="856" y="435" width="5" height="17" fill="#000"/>
<rect x="866" y="396" width="1" height="69" fill="#000"/>
<rect x="864" y="438" width="5" height="12" fill="#000"/>
<rect x="874" y="420" width="1" height="32" fill="#000"/>
<rect x="872" y="421" width="5" height="29" fill="#000"/>
<rect x="873" y="422" width="3" height="27" fill="#fff"/>
<rect x="882" y="388" width="1" height="32" fill="#000"/>
<rect x="880" y="401" width="5" height="14" fill="#000"/>
<rect x="881" y="402" width="3" height="12" fill="#fff"/>
<rect x="890" y="400" width="1" height="34" fill="#000"/>
<rect x="888" y="400" width="5" height="21" fill="#000"/>
<rect x="898" y="389" width="1" height="59" fill="#000"/>
<rect x="896" y="398" width="5" height="41" fill="#000"/>
<rect x="906" y="425" width="1" height="21" fill="#000"/>
<rect x="904" y="429" width="5" height="12" fill="#000"/>
<rect x="905" y="430" width="3" height="10" fill="#fff"/>
<rect x="914" y="473" width="1" height="58" fill="#000"/>
<rect x="912" y="480" width="5" height="41" fill="#000"/>
<rect x="922" y="492" width="1" height="38" fill="#000"/>
<rect x="920" y="522" width="5" height="3" fill="#000"/>
<rect x="921" y="523" width="3" height="1" fill="#fff"/>
<rect x="930" y="498" width="1" height="38" fill="#000"/>
<rect x="928" y="523" width="5" height="11" fill="#000"/>
<rect x="938" y="484" width="1" height="47" fill="#000"/>
<rect x="936" y="493" width="5" height="38" fill="#000"/>
<rect x="937" y="494" width="3" height="36" fill="#fff"/>
<rect x="946" y="507" width="1" height="36" fill="#000"/>
<rect x="944" y="521" width="5" height="13" fill="#000"/>
<rect x="945" y="522" width="3" height="11" fill="#fff"/>
<rect x="954" y="521" width="1" height="47" fill="#000"/>
<rect x="952" y="523" width="5" height="39" fill="#000"/>
<rect x="962" y="515" width="1" height="42" fill="#000"/>
<rect x="960" y="521" width="5" height="4" fill="#000"/>
<rect x="961" y="522" width="3" height="2" fill="#fff"/>
<rect x="970" y="503" width="1" height="24" fill="#000"/>
<rect x="968" y="508" width="5" height="12" fill="#000"/>
<rect x="969" y="509" width="3" height="10" fill="#fff"/>
<rect x="978" y="475" width="1" height="32" fill="#000"/>
<rect x="976" y="486" width="5" height="11" fill="#000"/>
<rect x="986" y="475" width="1" height="21" fill="#000"/>
<rect x="984" y="482" width="5" height="11" fill="#000"/>
<rect x="985" y="483" width="3" height="9" fill="#fff"/>
<rect x="994" y="420" width="1" height="40" fill="#000"/>
<rect x="992" y="431" width="5" height="27" fill="#000"/>
<rect x="993" y="432" width="3" height="25" fill="#fff"/>
<rect x="1002" y="424" width="1" height="13" fill="#000"/>
<rect x="1000" y="430" width="5" height="2" fill="#000"/>
<rect x="1010" y="439" width="1" height="34" fill="#000"/>
<rect x="1008" y="453" width="5" height="4" fill="#000"/>
<rect x="1018" y="443" width="1" height="21" fill="#000"/>
<rect x="1016" y="455" width="5" height="1" fill="#000"/>
<rect x="1026" y="420" width="1" height="50" fill="#000"/>
<rect x="1024" y="425" width="5" height="33" fill="#000"/>
<rect x="1034" y="444" width="1" height="13" fill="#000"/>
<rect x="1032" y="448" width="5" height="8" fill="#000"/>
<rect x="1033" y="449" width="3" height="6" fill="#fff"/>
<rect x="1042" y="445" width="1" height="38" fill="#000"/>
<rect x="1040" y="452" width="5" height="7" fill="#000"/>
<rect x="1050" y="445" width="1" height="20" fill="#000"/>
<rect x="1048" y="450" width="5" height="9" fill="#000"/>
<rect x="1049" y="451" width="3" height="7" fill="#fff"/>
<rect x="1058" y="388" width="1" height="53" fill="#000"/>
<rect x="1056" y="391" width="5" height="44" fill="#000"/>
<rect x="1057" y="392" width="3" height="42" fill="#fff"/>
<rect x="1066" y="367" width="1" height="27" fill="#000"/>
<rect x="1064" y="368" width="5" height="23" fill="#000"/>
<rect x="1065" y="369" width="3" height="21" fill="#fff"/>
<rect x="1074" y="332" width="1" height="30" fill="#000"/>
<rect x="1072" y="342" width="5" height="13" fill="#000"/>
<rect x="1073" y="343" width="3" height="11" fill="#fff"/>
<rect x="1082" y="315" width="1" height="33" fill="#000"/>
<rect x="1080" y="333" width="5" height="8" fill="#000"/>
<rect x="1081" y="334" width="3" height="6" fill="#fff"/>
<rect x="1090" y="346" width="1" height="30" fill="#000"/>
<rect x="1088" y="350" width="5" height="4" fill="#000"/>
<rect x="1098" y="341" width="1" height="21" fill="#000"/>
<rect x="1096" y="344" width="5" height="10" fill="#000"/>
<rect x="1097" y="345" width="3" height="8" fill="#fff"/>
<rect x="1106" y="320" width="1" height="34" fill="#000"/>
<rect x="1104" y="326" width="5" height="14" fill="#000"/>
<rect x="1105" y="327" width="3" height="12" fill="#fff"/>
<rect x="1114" y="318" width="1" height="43" fill="#000"/>
<rect x="1112" y="326" width="5" height="30" fill="#000"/>
<rect x="1122" y="332" width="1" height="49" fill="#000"/>
<rect x="1120" y="332" width="5" height="39" fill="#000"/>
<rect x="1130" y="350" width="1" height="33" fill="#000"/>
<rect x="1128" y="360" width="5" height="11" fill="#000"/>
<rect x="1129" y="361" width="3" height="9" fill="#fff"/>
<rect x="1138" y="322" width="1" height="43" fill="#000"/>
<rect x="1136" y="330" width="5" height="33" fill="#000"/>
<rect x="1137" y="331" width="3" height="31" fill="#fff"/>
<rect x="1146" y="295" width="1" height="39" fill="#000"/>
<rect x="1144" y="305" width="5" height="23" fill="#000"/>
<rect x="1145" y="306" width="3" height="21" fill="#fff"/>
<rect x="1154" y="298" width="1" height="38" fill="#000"/>
<rect x="1152" y="309" width="5" height="18" fill="#000"/>
<rect x="1162" y="321" width="1" height="22" fill="#000"/>
<rect x="1160" y="326" width="5" height="9" fill="#000"/>
<rect x="1170" y="314" width="1" height="36" fill="#000"/>
<rect x="1168" y="325" width="5" height="21" fill="#000"/>
<rect x="1178" y="342" width="1" height="40" fill="#000"/>
<rect x="1176" y="346" width="5" height="29" fill="#000"/>
<rect x="1186" y="363" width="1" height="43" fill="#000"/>
<rect x="1184" y="366" width="5" height="18" fill="#000"/>
<rect x="1185" y="367" width="3" height="16" fill="#fff"/>
<rect x="1194" y="369" width="1" height="25" fill="#000"/>
<rect x="1192" y="369" width="5" height="12" fill="#000"/>
<rect x="1202" y="362" width="1" height="59" fill="#000"/>
<rect x="1200" y="371" width="5" height="37" fill="#000"/>
<rect x="1210" y="389" width="1" height="18" fill="#000"/>
<rect x="1208" y="389" width="5" height="18" fill="#000"/>
<rect x="1209" y="390" width="3" height="16" fill="#fff"/>
<rect x="1218" y="364" width="1" height="52" fill="#000"/>
<rect x="1216" y="388" width="5" height="20" fill="#000"/>
<rect x="1226" y="392" width="1" height="22" fill="#000"/>
<rect x="1224" y="398" width="5" height="10" fill="#000"/>
<rect x="1225" y="399" width="3" height="8" fill="#fff"/>
<rect x="1234" y="380" width="1" height="25" fill="#000"/>
<rect x="1232" y="390" width="5" height="9" fill="#000"/>
<rect x="1242" y="395" width="1" height="13" fill="#000"/>
<rect x="1240" y="395" width="5" height="5" fill="#000"/>
<rect x="1241" y="396" width="3" height="3" fill="#fff"/>
<rect x="1250" y="368" width="1" height="34" fill="#000"/>
<rect x="1248" y="385" width="5" height="17" fill="#000"/>
<rect x="1249" y="386" width="3" height="15" fill="#fff"/>
<rect x="1258" y="382" width="1" height="30" fill="#000"/>
<rect x="1256" y="385" width="5" height="25" fill="#000"/>
<rect x="1266" y="366" width="1" height="36" fill="#000"/>
<rect x="1264" y="383" width="5" height="8" fill="#000"/>
<rect x="1265" y="384" width="3" height="6" fill="#fff"/>
<rect x="1274" y="378" width="1" height="12" fill="#000"/>
<rect x="1272" y="382" width="5" height="1" fill="#000"/>
<rect x="1282" y="365" width="1" height="81" fill="#000"/>
<rect x="1280" y="365" width="5" height="56" fill="#000"/>
<rect x="1290" y="409" width="1" height="23" fill="#000"/>
<rect x="1288" y="421" width="5" height="2" fill="#000"/>
<rect x="1298" y="414" width="1" height="19" fill="#000"/>
<rect x="1296" y="421" width="5" height="5" fill="#000"/>
<rect x="1306" y="422" width="1" height="23" fill="#000"/>
<rect x="1304" y="427" width="5" height="15" fill="#000"/>
<rect x="1314" y="431" width="1" height="52" fill="#000"/>
<rect x="1312" y="435" width="5" height="42" fill="#000"/>
<rect x="1313" y="436" width="3" height="40" fill="#fff"/>
<rect x="1322" y="429" width="1" height="23" fill="#000"/>
<rect x="1320" y="433" width="5" height="3" fill="#000"/>
<rect x="1321" y="434" width="3" height="1" fill="#fff"/>
<rect x="1330" y="389" width="1" height="46" fill="#000"/>
<rect x="1328" y="402" width="5" height="33" fill="#000"/>
<rect x="1329" y="403" width="3" height="31" fill="#fff"/>
<rect x="1338" y="386" width="1" height="24" fill="#000"/>
<rect x="1336" y="388" width="5" height="11" fill="#000"/>
<rect x="1337" y="389" width="3" height="9" fill="#fff"/>
<rect x="1346" y="422" width="1" height="32" fill="#000"/>
<rect x="1344" y="427" width="5" height="18" fill="#000"/>
<rect x="1354" y="429" width="1" height="32" fill="#000"/>
<rect x="1352" y="435" width="5" height="10" fill="#000"/>
<rect x="1353" y="436" width="3" height="8" fill="#fff"/>
<rect x="1362" y="419" width="1" height="37" fill="#000"/>
<rect x="1360" y="421" width="5" height="17" fill="#000"/>
<rect x="1370" y="436" width="1" height="36" fill="#000"/>
<rect x="1368" y="438" width="5" height="30" fill="#000"/>
<rect x="1378" y="395" width="1" height="50" fill="#000"/>
<rect x="1376" y="401" width="5" height="44" fill="#000"/>
<rect x="1377" y="402" width="3" height="42" fill="#fff"/>
<rect x="1386" y="374" width="1" height="32" fill="#000"/>
<rect x="1384" y="391" width="5" height="11" fill="#000"/>
<rect x="1385" y="392" width="3" height="9" fill="#fff"/>
<rect x="1394" y="362" width="1" height="36" fill="#000"/>
<rect x="1392" y="383" width="5" height="13" fill="#000"/>
<rect x="1393" y="384" width="3" height="11" fill="#fff"/>
<rect x="1402" y="372" width="1" height="14" fill="#000"/>
<rect x="1400" y="377" width="5" height="7" fill="#000"/>
<rect x="1401" y="378" width="3" height="5" fill="#fff"/>
<rect x="1410" y="339" width="1" height="39" fill="#000"/>
<rect x="1408" y="342" width="5" height="35" fill="#000"/>
<rect x="1409" y="343" width="3" height="33" fill="#fff"/>
<rect x="1418" y="330" width="1" height="17" fill="#000"/>
<rect x="1416" y="336" width="5" height="7" fill="#000"/>
<rect x="1417" y="337" width="3" height="5" fill="#fff"/>
<rect x="1426" y="319" width="1" height="20" fill="#000"/>
<rect x="1424" y="333" width="5" height="6" fill="#000"/>
<rect x="1425" y="334" width="3" height="4" fill="#fff"/>
<rect x="1434" y="333" width="1" height="37" fill="#000"/>
<rect x="1432" y="335" width="5" height="30" fill="#000"/>
<rect x="1442" y="363" width="1" height="23" fill="#000"/>
<rect x="1440" y="365" width="5" height="10" fill="#000"/>
</g>
<g shape-rendering="crispEdges" fill="#fff">
<rect x="2.5" y="316.5" width="4" height="4" stroke="#ff0000" stroke-width="1"/>
<rect x="1655.5" y="316.5" width="4" height="4" stroke="#ff0000" stroke-width="1"/>
<rect x="2.5" y="343.5" width="4" height="4" stroke="#ff0000" stroke-width="1"/>
<rect x="1655.5" y="343.5" width="4" height="4" stroke="#ff0000" stroke-width="1"/>
<rect x="2.5" y="388.5" width="4" height="4" stroke="#0000ff" stroke-width="1"/>
<rect x="1655.5" y="388.5" width="4" height="4" stroke="#0000ff" stroke-width="1"/>
<rect x="2.5" y="410.5" width="4" height="4" stroke="#0000ff" stroke-width="1"/>
<rect x="1655.5" y="410.5" width="4" height="4" stroke="#0000ff" stroke-width="1"/>
</g>
<line x1="1271.6" y1="370.5" x2="1304.0" y2="461.8" stroke="#ff0000" stroke-width="3.6" stroke-linecap="round" shape-rendering="crispEdges"/>
<polygon points="1308.4,474.0 1299.3,463.4 1308.8,460.1" fill="#ff0000" shape-rendering="crispEdges"/>
<line x1="1308.4" y1="474.0" x2="1338.2" y2="401.6" stroke="#ff0000" stroke-width="3.6" stroke-linecap="round" shape-rendering="crispEdges"/>
<polygon points="1343.1,389.6 1342.8,403.5 1333.5,399.7" fill="#ff0000" shape-rendering="crispEdges"/>
<line x1="1343.1" y1="389.6" x2="1366.6" y2="452.4" stroke="#ff0000" stroke-width="3.6" stroke-linecap="round" shape-rendering="crispEdges"/>
<polygon points="1371.2,464.6 1362.0,454.2 1371.3,450.7" fill="#ff0000" shape-rendering="crispEdges"/>
<line x1="1371.2" y1="464.6" x2="1428.0" y2="336.1" stroke="#ff0000" stroke-width="3.6" stroke-linecap="round" shape-rendering="crispEdges"/>
<polygon points="1433.3,324.2 1432.6,338.1 1423.5,334.1" fill="#ff0000" shape-rendering="crispEdges"/>
<line x1="1433.3" y1="324.2" x2="1456.1" y2="383.5" stroke="#ff0000" stroke-width="3.6" stroke-linecap="round" shape-rendering="crispEdges"/>
<polygon points="1460.8,395.6 1451.5,385.3 1460.8,381.7" fill="#ff0000" shape-rendering="crispEdges"/>
<rect x="1376" y="356" width="113" height="6" fill="#00ff00" shape-rendering="crispEdges"/>
</g>
<polygon points="1438,28 1449,28 1443.5,33.5" fill="#c0c0c0" shape-rendering="crispEdges"/>
<polygon points="5,38 12,38 8.5,34" fill="#000"/>
<text class="ax" x="17.0" y="39.0" textLength="187.7" lengthAdjust="spacingAndGlyphs" xml:space="preserve" >HK50-,H4  28912.0 28948.0 28773.5 28846.0</text>
<rect x="2" y="43" width="15" height="1" fill="#ff0000" shape-rendering="crispEdges"/>
<rect x="2" y="61" width="2" height="1" fill="#ff0000" shape-rendering="crispEdges"/>
<g shape-rendering="crispEdges">
<rect x="2" y="45" width="224" height="61" fill="#fff"/>
<rect x="5" y="47" width="52" height="25" fill="url(#gb1)"/>
<rect x="173" y="47" width="51" height="25" fill="url(#gb1)"/>
<rect x="5" y="72" width="109" height="32" fill="url(#gb2)"/>
<rect x="116" y="72" width="108" height="32" fill="url(#gb2)"/>
<rect x="9" y="70" width="44" height="1" fill="#9c9cff"/>
<rect x="176" y="70" width="44" height="1" fill="#9c9cff"/>
<rect x="57" y="47" width="116" height="25" fill="#f0f0f0"/>
<rect x="59.5" y="47.5" width="110" height="21" fill="#fff" stroke="#b4b4b4"/>
<rect x="60" y="48" width="20" height="20" fill="url(#gsp)"/>
<rect x="149" y="48" width="20" height="20" fill="url(#gsp)"/>
<rect x="80" y="48" width="1" height="20" fill="#c8c8c8"/>
<rect x="148" y="48" width="1" height="20" fill="#c8c8c8"/>
</g>
<polygon points="67,56 73,56 70,59.5" fill="#4a5fc8"/>
<polygon points="156,59 162,59 159,55.5" fill="#4a5fc8"/>
<text x="145" y="62" font-size="11.5px" fill="#000" text-anchor="end">1.00</text>
<text x="30.2" y="63" font-size="11.5px" fill="#fff" text-anchor="middle" textLength="25.5" lengthAdjust="spacingAndGlyphs">SELL</text>
<text x="197.5" y="63" font-size="11.5px" fill="#fff" text-anchor="middle">BUY</text>
<text x="21" y="98.5" font-size="11px" font-weight="bold" fill="#fff" textLength="34.5" lengthAdjust="spacingAndGlyphs">28844</text>
<text x="131" y="98.5" font-size="11px" font-weight="bold" fill="#fff" textLength="34.5" lengthAdjust="spacingAndGlyphs">28860</text>
<text x="59" y="98" font-size="31px" fill="#fff">.5</text>
<text x="170" y="98" font-size="31px" fill="#fff">.5</text>
<g shape-rendering="crispEdges" fill="#000">
<rect x="1661" y="49" width="2" height="1"/>
<rect x="1661" y="82" width="2" height="1"/>
<rect x="1661" y="115" width="2" height="1"/>
<rect x="1661" y="148" width="2" height="1"/>
<rect x="1661" y="181" width="2" height="1"/>
<rect x="1661" y="214" width="2" height="1"/>
<rect x="1661" y="247" width="2" height="1"/>
<rect x="1661" y="280" width="2" height="1"/>
<rect x="1661" y="313" width="2" height="1"/>
<rect x="1661" y="379" width="2" height="1"/>
<rect x="1661" y="445" width="2" height="1"/>
<rect x="1661" y="478" width="2" height="1"/>
<rect x="1661" y="511" width="2" height="1"/>
<rect x="1661" y="544" width="2" height="1"/>
<rect x="1661" y="577" width="2" height="1"/>
<rect x="1661" y="346" width="2" height="1"/>
</g>
<text class="ax" x="1666.0" y="53.0" textLength="33.4" lengthAdjust="spacingAndGlyphs" xml:space="preserve" >31146.0</text>
<text class="ax" x="1666.0" y="86.0" textLength="33.4" lengthAdjust="spacingAndGlyphs" xml:space="preserve" >30915.0</text>
<text class="ax" x="1666.0" y="119.0" textLength="33.4" lengthAdjust="spacingAndGlyphs" xml:space="preserve" >30677.0</text>
<text class="ax" x="1666.0" y="152.0" textLength="33.4" lengthAdjust="spacingAndGlyphs" xml:space="preserve" >30446.0</text>
<text class="ax" x="1666.0" y="185.0" textLength="33.4" lengthAdjust="spacingAndGlyphs" xml:space="preserve" >30215.0</text>
<text class="ax" x="1666.0" y="218.0" textLength="33.4" lengthAdjust="spacingAndGlyphs" xml:space="preserve" >29977.0</text>
<text class="ax" x="1666.0" y="251.0" textLength="33.4" lengthAdjust="spacingAndGlyphs" xml:space="preserve" >29746.0</text>
<text class="ax" x="1666.0" y="284.0" textLength="33.4" lengthAdjust="spacingAndGlyphs" xml:space="preserve" >29515.0</text>
<text class="ax" x="1666.0" y="316.5" textLength="33.4" lengthAdjust="spacingAndGlyphs" xml:space="preserve" >29277.0</text>
<text class="ax" x="1666.0" y="382.5" textLength="33.4" lengthAdjust="spacingAndGlyphs" xml:space="preserve" >28815.0</text>
<text class="ax" x="1666.0" y="449.0" textLength="33.4" lengthAdjust="spacingAndGlyphs" xml:space="preserve" >28346.0</text>
<text class="ax" x="1666.0" y="482.0" textLength="33.4" lengthAdjust="spacingAndGlyphs" xml:space="preserve" >28115.0</text>
<text class="ax" x="1666.0" y="515.0" textLength="33.4" lengthAdjust="spacingAndGlyphs" xml:space="preserve" >27877.0</text>
<text class="ax" x="1666.0" y="548.0" textLength="33.4" lengthAdjust="spacingAndGlyphs" xml:space="preserve" >27646.0</text>
<text class="ax" x="1666.0" y="581.0" textLength="33.4" lengthAdjust="spacingAndGlyphs" xml:space="preserve" >27415.0</text>
<rect x="1662" y="312" width="41" height="11" fill="#ff0000" shape-rendering="crispEdges"/>
<text class="lb" x="1666.0" y="321.0" textLength="33.4" lengthAdjust="spacingAndGlyphs" xml:space="preserve" >29244.1</text>
<rect x="1662" y="339" width="41" height="11" fill="#ff0000" shape-rendering="crispEdges"/>
<text class="lb" x="1666.0" y="348.0" textLength="33.4" lengthAdjust="spacingAndGlyphs" xml:space="preserve" >29053.5</text>
<rect x="1662" y="356" width="41" height="11" fill="#32cd32" shape-rendering="crispEdges"/>
<text class="lb" x="1666.0" y="365.0" textLength="33.4" lengthAdjust="spacingAndGlyphs" xml:space="preserve" >28933.4</text>
<rect x="1662" y="369" width="41" height="11" fill="#000000" shape-rendering="crispEdges"/>
<text class="lb" x="1666.0" y="378.0" textLength="33.4" lengthAdjust="spacingAndGlyphs" xml:space="preserve" >28846.0</text>
<rect x="1662" y="384" width="41" height="11" fill="#0000ff" shape-rendering="crispEdges"/>
<text class="lb" x="1666.0" y="393.0" textLength="33.4" lengthAdjust="spacingAndGlyphs" xml:space="preserve" >28735.7</text>
<rect x="1662" y="406" width="41" height="11" fill="#0000ff" shape-rendering="crispEdges"/>
<text class="lb" x="1666.0" y="415.0" textLength="33.4" lengthAdjust="spacingAndGlyphs" xml:space="preserve" >28580.3</text>
<g clip-path="url(#cd)">
<g shape-rendering="crispEdges" fill="#c0c0c0">
<rect x="2" y="623" width="1" height="60"/>
<rect x="10" y="612" width="1" height="71"/>
<rect x="18" y="602" width="1" height="81"/>
<rect x="26" y="595" width="1" height="88"/>
<rect x="34" y="593" width="1" height="90"/>
<rect x="42" y="596" width="1" height="87"/>
<rect x="50" y="602" width="1" height="81"/>
<rect x="58" y="607" width="1" height="76"/>
<rect x="66" y="604" width="1" height="79"/>
<rect x="74" y="614" width="1" height="69"/>
<rect x="82" y="613" width="1" height="70"/>
<rect x="90" y="615" width="1" height="68"/>
<rect x="98" y="628" width="1" height="55"/>
<rect x="106" y="643" width="1" height="40"/>
<rect x="114" y="646" width="1" height="37"/>
<rect x="122" y="653" width="1" height="30"/>
<rect x="130" y="670" width="1" height="13"/>
<rect x="138" y="682" width="1" height="5"/>
<rect x="146" y="682" width="1" height="15"/>
<rect x="154" y="682" width="1" height="22"/>
<rect x="162" y="682" width="1" height="30"/>
<rect x="170" y="682" width="1" height="38"/>
<rect x="178" y="682" width="1" height="35"/>
<rect x="186" y="682" width="1" height="30"/>
<rect x="194" y="682" width="1" height="37"/>
<rect x="202" y="682" width="1" height="39"/>
<rect x="210" y="682" width="1" height="42"/>
<rect x="218" y="682" width="1" height="45"/>
<rect x="226" y="682" width="1" height="52"/>
<rect x="234" y="682" width="1" height="58"/>
<rect x="242" y="682" width="1" height="57"/>
<rect x="250" y="682" width="1" height="56"/>
<rect x="258" y="682" width="1" height="55"/>
<rect x="266" y="682" width="1" height="52"/>
<rect x="274" y="682" width="1" height="42"/>
<rect x="282" y="682" width="1" height="35"/>
<rect x="290" y="682" width="1" height="29"/>
<rect x="298" y="682" width="1" height="33"/>
<rect x="306" y="682" width="1" height="33"/>
<rect x="314" y="682" width="1" height="33"/>
<rect x="322" y="682" width="1" height="30"/>
<rect x="330" y="682" width="1" height="28"/>
<rect x="338" y="682" width="1" height="26"/>
<rect x="346" y="682" width="1" height="23"/>
<rect x="354" y="682" width="1" height="15"/>
<rect x="362" y="682" width="1" height="9"/>
<rect x="370" y="682" width="1" height="11"/>
<rect x="378" y="682" width="1" height="12"/>
<rect x="386" y="682" width="1" height="13"/>
<rect x="394" y="682" width="1" height="14"/>
<rect x="402" y="682" width="1" height="22"/>
<rect x="410" y="682" width="1" height="27"/>
<rect x="418" y="682" width="1" height="39"/>
<rect x="426" y="682" width="1" height="49"/>
<rect x="434" y="682" width="1" height="57"/>
<rect x="442" y="682" width="1" height="62"/>
<rect x="450" y="682" width="1" height="61"/>
<rect x="458" y="682" width="1" height="58"/>
<rect x="466" y="682" width="1" height="53"/>
<rect x="474" y="682" width="1" height="49"/>
<rect x="482" y="682" width="1" height="41"/>
<rect x="490" y="682" width="1" height="35"/>
<rect x="498" y="682" width="1" height="32"/>
<rect x="506" y="682" width="1" height="31"/>
<rect x="514" y="682" width="1" height="25"/>
<rect x="522" y="682" width="1" height="16"/>
<rect x="530" y="682" width="1" height="12"/>
<rect x="538" y="682" width="1" height="11"/>
<rect x="546" y="682" width="1" height="5"/>
<rect x="554" y="681" width="1" height="2"/>
<rect x="562" y="680" width="1" height="3"/>
<rect x="570" y="681" width="1" height="2"/>
<rect x="578" y="682" width="1" height="1"/>
<rect x="586" y="682" width="1" height="5"/>
<rect x="594" y="682" width="1" height="3"/>
<rect x="602" y="682" width="1" height="4"/>
<rect x="610" y="682" width="1" height="1"/>
<rect x="618" y="679" width="1" height="4"/>
<rect x="626" y="681" width="1" height="2"/>
<rect x="634" y="679" width="1" height="4"/>
<rect x="642" y="678" width="1" height="5"/>
<rect x="650" y="674" width="1" height="9"/>
<rect x="658" y="667" width="1" height="16"/>
<rect x="666" y="665" width="1" height="18"/>
<rect x="674" y="663" width="1" height="20"/>
<rect x="682" y="661" width="1" height="22"/>
<rect x="690" y="667" width="1" height="16"/>
<rect x="698" y="674" width="1" height="9"/>
<rect x="706" y="676" width="1" height="7"/>
<rect x="714" y="677" width="1" height="6"/>
<rect x="722" y="675" width="1" height="8"/>
<rect x="730" y="672" width="1" height="11"/>
<rect x="738" y="669" width="1" height="14"/>
<rect x="746" y="669" width="1" height="14"/>
<rect x="754" y="671" width="1" height="12"/>
<rect x="762" y="672" width="1" height="11"/>
<rect x="770" y="674" width="1" height="9"/>
<rect x="778" y="675" width="1" height="8"/>
<rect x="786" y="672" width="1" height="11"/>
<rect x="794" y="670" width="1" height="13"/>
<rect x="802" y="675" width="1" height="8"/>
<rect x="810" y="682" width="1" height="1"/>
<rect x="818" y="682" width="1" height="9"/>
<rect x="826" y="682" width="1" height="18"/>
<rect x="834" y="682" width="1" height="22"/>
<rect x="842" y="682" width="1" height="22"/>
<rect x="850" y="682" width="1" height="24"/>
<rect x="858" y="682" width="1" height="25"/>
<rect x="866" y="682" width="1" height="25"/>
<rect x="874" y="682" width="1" height="23"/>
<rect x="882" y="682" width="1" height="18"/>
<rect x="890" y="682" width="1" height="17"/>
<rect x="898" y="682" width="1" height="17"/>
<rect x="906" y="682" width="1" height="16"/>
<rect x="914" y="682" width="1" height="25"/>
<rect x="922" y="682" width="1" height="32"/>
<rect x="930" y="682" width="1" height="39"/>
<rect x="938" y="682" width="1" height="39"/>
<rect x="946" y="682" width="1" height="41"/>
<rect x="954" y="682" width="1" height="48"/>
<rect x="962" y="682" width="1" height="48"/>
<rect x="970" y="682" width="1" height="45"/>
<rect x="978" y="682" width="1" height="42"/>
<rect x="986" y="682" width="1" height="37"/>
<rect x="994" y="682" width="1" height="28"/>
<rect x="1002" y="682" width="1" height="20"/>
<rect x="1010" y="682" width="1" height="16"/>
<rect x="1018" y="682" width="1" height="12"/>
<rect x="1026" y="682" width="1" height="11"/>
<rect x="1034" y="682" width="1" height="8"/>
<rect x="1042" y="682" width="1" height="7"/>
<rect x="1050" y="682" width="1" height="4"/>
<rect x="1058" y="679" width="1" height="4"/>
<rect x="1066" y="671" width="1" height="12"/>
<rect x="1074" y="661" width="1" height="22"/>
<rect x="1082" y="653" width="1" height="30"/>
<rect x="1090" y="649" width="1" height="34"/>
<rect x="1098" y="645" width="1" height="38"/>
<rect x="1106" y="641" width="1" height="42"/>
<rect x="1114" y="641" width="1" height="42"/>
<rect x="1122" y="643" width="1" height="40"/>
<rect x="1130" y="644" width="1" height="39"/>
<rect x="1138" y="642" width="1" height="41"/>
<rect x="1146" y="639" width="1" height="44"/>
<rect x="1154" y="639" width="1" height="44"/>
<rect x="1162" y="640" width="1" height="43"/>
<rect x="1170" y="643" width="1" height="40"/>
<rect x="1178" y="648" width="1" height="35"/>
<rect x="1186" y="652" width="1" height="31"/>
<rect x="1194" y="657" width="1" height="26"/>
<rect x="1202" y="664" width="1" height="19"/>
<rect x="1210" y="668" width="1" height="15"/>
<rect x="1218" y="674" width="1" height="9"/>
<rect x="1226" y="677" width="1" height="6"/>
<rect x="1234" y="679" width="1" height="4"/>
<rect x="1242" y="681" width="1" height="2"/>
<rect x="1250" y="682" width="1" height="1"/>
<rect x="1258" y="682" width="1" height="1"/>
<rect x="1266" y="682" width="1" height="1"/>
<rect x="1274" y="682" width="1" height="1"/>
<rect x="1282" y="682" width="1" height="4"/>
<rect x="1290" y="682" width="1" height="7"/>
<rect x="1298" y="682" width="1" height="10"/>
<rect x="1306" y="682" width="1" height="13"/>
<rect x="1314" y="682" width="1" height="16"/>
<rect x="1322" y="682" width="1" height="16"/>
<rect x="1330" y="682" width="1" height="14"/>
<rect x="1338" y="682" width="1" height="10"/>
<rect x="1346" y="682" width="1" height="12"/>
<rect x="1354" y="682" width="1" height="16"/>
<rect x="1362" y="682" width="1" height="15"/>
<rect x="1370" y="682" width="1" height="20"/>
<rect x="1378" y="682" width="1" height="15"/>
<rect x="1386" y="682" width="1" height="11"/>
<rect x="1394" y="682" width="1" height="5"/>
<rect x="1402" y="682" width="1" height="2"/>
<rect x="1410" y="678" width="1" height="5"/>
<rect x="1418" y="675" width="1" height="8"/>
<rect x="1426" y="666" width="1" height="17"/>
<rect x="1434" y="666" width="1" height="17"/>
<rect x="1442" y="667" width="1" height="16"/>
</g>
<path d="M74 601.5h3M80 601.5h3M68 602.5h3M86 602.5h2M62 604.5h3M93 605.5h2M57 606.5h2M99 608.5h2M51 609.5h2M105 611.5h2M38 620.5h2M1168 640.5h3M1162 641.5h3M1174 641.5h3M1180 641.5h3M1186 641.5h2M14 642.5h2M1150 642.5h3M1156 642.5h2M1145 643.5h2M1193 644.5h2M1198 645.5h3M1138 646.5h2M1204 646.5h2M8 647.5h2M1132 648.5h2M1211 649.5h2M1126 651.5h2M1216 652.5h2M1121 654.5h2M1222 655.5h3M1115 657.5h2M1228 658.5h2M1234 662.5h2M1241 665.5h2M706 668.5h3M712 668.5h3M718 668.5h3M724 668.5h2M1247 668.5h2M688 669.5h3M694 669.5h3M700 669.5h2M730 669.5h3M736 669.5h3M742 670.5h3M748 670.5h2M790 670.5h3M796 670.5h2M1096 670.5h2M682 671.5h2M754 671.5h3M760 671.5h3M766 671.5h3M772 671.5h3M778 671.5h3M784 671.5h3M802 671.5h3M1253 671.5h2M808 672.5h3M676 673.5h2M1091 673.5h2M1258 673.5h2M814 674.5h3M670 675.5h2M664 676.5h3M820 676.5h3M1265 676.5h2M1270 677.5h3M658 678.5h2M827 678.5h2M1084 678.5h2M1276 678.5h2M1439 679.5h2M652 680.5h2M1282 680.5h2M646 681.5h3M832 681.5h2M616 682.5h3M622 682.5h3M628 682.5h3M634 682.5h3M640 682.5h3M1078 682.5h2M1288 682.5h3M1433 682.5h2M1294 683.5h3M610 684.5h2M838 684.5h3M1300 684.5h2M598 685.5h3M604 685.5h2M1073 685.5h2M1427 685.5h2M592 686.5h3M844 686.5h2M1306 686.5h3M586 687.5h3M1312 687.5h3M1067 688.5h2M1318 688.5h2M1420 688.5h2M580 689.5h2M851 689.5h2M1324 690.5h3M1414 690.5h3M574 691.5h3M1330 691.5h3M1336 691.5h3M857 692.5h2M1342 692.5h2M1408 692.5h3M569 693.5h2M1348 693.5h2M1402 693.5h3M1354 694.5h3M1396 694.5h3M1055 695.5h2M1360 695.5h3M562 696.5h2M1366 696.5h2M1390 696.5h2M1372 697.5h3M1378 697.5h3M1384 697.5h3M400 698.5h3M406 698.5h3M1049 698.5h2M394 699.5h3M412 699.5h3M868 699.5h2M190 700.5h2M388 700.5h3M419 701.5h2M874 701.5h2M1043 701.5h2M382 702.5h2M376 703.5h3M550 703.5h2M425 704.5h2M881 704.5h2M886 704.5h3M892 704.5h3M898 704.5h3M904 704.5h3M910 704.5h3M916 704.5h2M370 705.5h2M922 705.5h2M545 706.5h2M364 707.5h2M430 707.5h2M928 707.5h3M934 708.5h2M1031 708.5h2M358 709.5h2M539 709.5h2M940 709.5h2M352 710.5h3M946 710.5h2M203 711.5h2M436 711.5h2M1025 711.5h2M346 712.5h2M953 713.5h2M209 714.5h2M340 714.5h2M1019 714.5h2M214 716.5h3M334 716.5h2M443 716.5h2M959 716.5h2M329 717.5h2M526 717.5h2M1013 717.5h2M964 718.5h3M221 719.5h2M449 719.5h2M322 720.5h2M971 720.5h2M1006 720.5h2M226 721.5h2M520 721.5h2M1000 721.5h3M316 722.5h2M994 722.5h3M977 723.5h2M988 723.5h3M233 724.5h2M310 724.5h3M515 724.5h2M982 724.5h3M238 725.5h3M244 726.5h2M305 726.5h2M509 727.5h2M250 728.5h2M298 729.5h2M292 730.5h2M466 730.5h2M502 730.5h2M257 731.5h2M286 731.5h3M497 731.5h2M262 732.5h2M268 733.5h3M274 733.5h3M280 733.5h3M473 733.5h2M478 734.5h3M484 734.5h3M490 734.5h2M2.5 652v1M3.5 651v1M4.5 650v1M10.5 646v1M16.5 641v1M20.5 637v1M21.5 636v1M22.5 635v1M26.5 631v1M27.5 630v1M28.5 629v1M32.5 626v1M33.5 625v1M34.5 624v1M40.5 619v1M44.5 615v1M45.5 614v1M46.5 613v1M50.5 610v1M56.5 607v1M88.5 603v1M92.5 604v1M98.5 607v1M104.5 610v1M110.5 614v1M111.5 615v1M112.5 616v1M116.5 619v1M117.5 620v1M118.5 621v1M122.5 624v1M123.5 625v1M124.5 626v1M128.5 629v1M129.5 630v1M130.5 631v1M134.5 635v2M135.5 637v1M139.5 641v1M140.5 642v1M141.5 643v1M145.5 647v1M146.5 648v1M147.5 649v1M150.5 653v2M151.5 655v1M154.5 659v1M155.5 660v1M156.5 661v1M159.5 665v1M160.5 666v2M163.5 671v1M164.5 672v1M165.5 673v1M168.5 677v1M169.5 678v2M173.5 683v1M174.5 684v2M178.5 689v1M179.5 690v1M180.5 691v1M184.5 694v1M185.5 695v1M186.5 696v1M192.5 701v1M196.5 705v1M197.5 706v1M198.5 707v1M202.5 710v1M208.5 713v1M220.5 718v1M228.5 722v1M232.5 723v1M246.5 727v1M252.5 729v1M256.5 730v1M264.5 733v1M294.5 729v1M300.5 728v1M304.5 727v1M318.5 721v1M324.5 719v1M328.5 718v1M336.5 715v1M342.5 713v1M348.5 711v1M360.5 708v1M366.5 706v1M372.5 704v1M384.5 701v1M418.5 700v1M424.5 703v1M432.5 708v1M438.5 712v1M442.5 715v1M448.5 718v1M454.5 722v1M455.5 723v1M456.5 724v1M460.5 726v1M461.5 727v1M462.5 728v1M468.5 731v1M472.5 732v1M492.5 733v1M496.5 732v1M504.5 729v1M508.5 728v1M514.5 725v1M522.5 720v1M528.5 716v1M532.5 714v1M533.5 713v1M534.5 712v1M538.5 710v1M544.5 707v1M552.5 702v1M556.5 700v1M557.5 699v1M558.5 698v1M564.5 695v1M568.5 694v1M582.5 688v1M606.5 684v1M612.5 683v1M654.5 679v1M660.5 677v1M672.5 674v1M678.5 672v1M684.5 670v1M702.5 668v1M726.5 669v1M750.5 671v1M798.5 671v1M826.5 677v1M834.5 682v1M846.5 687v1M850.5 688v1M856.5 691v1M862.5 695v1M863.5 696v1M864.5 697v1M870.5 700v1M876.5 702v1M880.5 703v1M918.5 705v1M924.5 706v1M936.5 709v1M942.5 710v1M948.5 711v1M952.5 712v1M958.5 715v1M970.5 719v1M976.5 722v1M1008.5 719v1M1012.5 718v1M1018.5 715v1M1024.5 712v1M1030.5 709v1M1036.5 706v1M1037.5 705v1M1038.5 704v1M1042.5 702v1M1048.5 699v1M1054.5 696v1M1060.5 693v1M1061.5 692v1M1062.5 691v1M1066.5 689v1M1072.5 686v1M1080.5 681v1M1086.5 677v1M1090.5 674v1M1098.5 669v1M1102.5 666v1M1103.5 665v1M1104.5 664v1M1108.5 662v1M1109.5 661v1M1110.5 660v1M1114.5 658v1M1120.5 655v1M1128.5 650v1M1134.5 647v1M1140.5 645v1M1144.5 644v1M1158.5 641v1M1188.5 642v1M1192.5 643v1M1206.5 647v1M1210.5 648v1M1218.5 653v1M1230.5 659v1M1236.5 663v1M1240.5 664v1M1246.5 667v1M1252.5 670v1M1260.5 674v1M1264.5 675v1M1278.5 679v1M1284.5 681v1M1302.5 685v1M1320.5 689v1M1344.5 693v1M1350.5 694v1M1368.5 697v1M1392.5 695v1M1422.5 687v1M1426.5 686v1M1432.5 683v1M1438.5 680v1" fill="none" stroke="#ff0000" stroke-width="1" shape-rendering="crispEdges"/>
<line x1="1347.2" y1="699.2" x2="1416.0" y2="674.0" stroke="#ff0000" stroke-width="3" stroke-linecap="round" shape-rendering="crispEdges"/>
<polygon points="1427.3,669.9 1417.6,678.2 1414.5,669.8" fill="#ff0000" shape-rendering="crispEdges"/>
<line x1="1427.3" y1="670.6" x2="1436.2" y2="672.5" stroke="#ff0000" stroke-width="3" stroke-linecap="round" shape-rendering="crispEdges"/>
<polygon points="1447.0,674.8 1435.3,676.9 1437.2,668.1" fill="#ff0000" shape-rendering="crispEdges"/>
</g>
<text class="ax" x="6.5" y="595.0" textLength="115.2" lengthAdjust="spacingAndGlyphs" xml:space="preserve" >MACD(12,26,9) 86.29 21.27</text>
<text class="ax" x="1664.0" y="592.5" textLength="28.3" lengthAdjust="spacingAndGlyphs" xml:space="preserve" >511.02</text>
<text class="ax" x="1664.0" y="686.2" textLength="18.1" lengthAdjust="spacingAndGlyphs" xml:space="preserve" >0.00</text>
<text class="ax" x="1664.0" y="749.2" textLength="31.7" lengthAdjust="spacingAndGlyphs" xml:space="preserve" >-358.25</text>
<g clip-path="url(#cr)">
<g shape-rendering="crispEdges">
<line x1="3" y1="790.5" x2="1660" y2="790.5" stroke="#c0c0c0" stroke-width="1" stroke-dasharray="3 3"/>
<line x1="3" y1="841.5" x2="1660" y2="841.5" stroke="#c0c0c0" stroke-width="1" stroke-dasharray="3 3"/>
<line x1="3" y1="902.5" x2="1660" y2="902.5" stroke="#c0c0c0" stroke-width="1" stroke-dasharray="3 3"/>
</g>
<path d="M24 800.5h3M20 801.5h4M16 802.5h4M12 803.5h4M2 804.5h10M1080 810.5h3M1076 811.5h4M1074 812.5h2M1072 813.5h2M1105 813.5h2M1070 814.5h2M1103 814.5h2M1101 815.5h2M1144 815.5h2M36 816.5h2M1067 816.5h2M1099 816.5h2M65 817.5h2M1096 817.5h3M63 818.5h2M1064 818.5h2M1092 818.5h4M1140 818.5h2M40 819.5h2M61 819.5h2M1062 819.5h2M1090 819.5h2M1416 819.5h6M59 820.5h2M1412 820.5h4M1422 820.5h5M1059 821.5h2M1410 821.5h2M1134 823.5h2M1154 823.5h2M54 824.5h2M83 824.5h2M1156 824.5h2M85 825.5h2M1158 825.5h3M87 826.5h2M1116 826.5h2M1161 826.5h3M89 827.5h2M553 827.5h2M654 827.5h2M1129 827.5h2M1164 827.5h2M550 828.5h3M792 828.5h3M1126 828.5h3M1166 828.5h3M548 829.5h2M788 829.5h4M1120 829.5h2M1124 829.5h2M1169 829.5h2M546 830.5h2M672 830.5h11M734 830.5h5M786 830.5h2M1122 830.5h2M1400 830.5h3M355 831.5h2M668 831.5h4M728 831.5h6M1396 831.5h4M357 832.5h2M617 832.5h2M648 832.5h2M666 832.5h2M724 832.5h4M740 832.5h2M1392 832.5h4M1434 832.5h2M359 833.5h2M614 833.5h3M722 833.5h2M994 833.5h9M1388 833.5h4M1436 833.5h2M361 834.5h2M520 834.5h2M523 834.5h2M612 834.5h2M1385 834.5h3M1438 834.5h3M525 835.5h2M610 835.5h2M644 835.5h2M744 835.5h2M1382 835.5h3M1441 835.5h2M527 836.5h2M746 836.5h4M1380 836.5h2M74 837.5h2M274 837.5h2M516 837.5h2M529 837.5h2M634 837.5h9M750 837.5h6M1006 837.5h2M1184 837.5h3M1336 837.5h3M1378 837.5h2M276 838.5h2M563 838.5h2M756 838.5h4M1033 838.5h2M1049 838.5h2M1180 838.5h4M1187 838.5h2M1334 838.5h2M116 839.5h2M278 839.5h3M532 839.5h2M760 839.5h3M1030 839.5h3M1035 839.5h2M1047 839.5h2M1178 839.5h2M1270 839.5h5M281 840.5h10M566 840.5h2M630 840.5h2M763 840.5h2M880 840.5h2M1010 840.5h12M1028 840.5h2M1037 840.5h2M1045 840.5h2M1190 840.5h2M1266 840.5h4M1331 840.5h2M483 841.5h2M568 841.5h2M596 841.5h2M712 841.5h3M765 841.5h2M776 841.5h3M878 841.5h2M884 841.5h2M1022 841.5h6M1039 841.5h2M1043 841.5h2M1192 841.5h2M1249 841.5h2M120 842.5h2M184 842.5h2M485 842.5h2M536 842.5h2M708 842.5h4M767 842.5h2M772 842.5h4M1041 842.5h2M1247 842.5h2M182 843.5h2M487 843.5h2M706 843.5h2M769 843.5h3M875 843.5h2M1245 843.5h2M489 844.5h2M600 844.5h2M888 844.5h2M1243 844.5h2M179 845.5h2M342 845.5h5M491 845.5h2M1208 845.5h2M1238 845.5h5M321 846.5h5M334 846.5h8M493 846.5h2M702 846.5h2M985 846.5h2M1212 846.5h2M1225 846.5h13M319 847.5h2M326 847.5h8M374 847.5h14M495 847.5h2M690 847.5h2M892 847.5h2M905 847.5h2M982 847.5h3M1223 847.5h2M317 848.5h2M370 848.5h4M388 848.5h4M497 848.5h3M692 848.5h2M903 848.5h2M980 848.5h2M1204 848.5h2M1221 848.5h2M306 849.5h4M315 849.5h2M392 849.5h3M500 849.5h2M584 849.5h3M694 849.5h3M901 849.5h2M977 849.5h3M1216 849.5h2M1219 849.5h2M304 850.5h2M310 850.5h5M502 850.5h3M580 850.5h4M697 850.5h2M896 850.5h2M899 850.5h2M975 850.5h2M302 851.5h2M465 851.5h5M505 851.5h2M578 851.5h2M803 851.5h2M842 851.5h4M973 851.5h2M201 852.5h5M242 852.5h2M463 852.5h2M470 852.5h5M846 852.5h5M971 852.5h2M1353 852.5h5M152 853.5h3M198 853.5h3M206 853.5h8M244 853.5h4M254 853.5h13M299 853.5h2M461 853.5h2M806 853.5h2M851 853.5h2M969 853.5h2M1282 853.5h2M1350 853.5h3M1358 853.5h5M148 854.5h4M155 854.5h2M196 854.5h2M214 854.5h5M248 854.5h6M459 854.5h2M808 854.5h2M853 854.5h2M967 854.5h2M1284 854.5h4M1348 854.5h2M146 855.5h2M157 855.5h2M194 855.5h2M219 855.5h2M855 855.5h2M862 855.5h5M965 855.5h2M1288 855.5h11M1320 855.5h3M1346 855.5h2M131 856.5h2M144 856.5h2M159 856.5h2M456 856.5h2M857 856.5h5M963 856.5h2M1316 856.5h4M142 857.5h2M161 857.5h3M222 857.5h2M1300 857.5h2M1313 857.5h3M134 858.5h2M164 858.5h4M224 858.5h2M1311 858.5h2M136 859.5h2M139 859.5h2M168 859.5h3M452 859.5h2M940 859.5h2M1309 859.5h2M227 860.5h2M1304 860.5h2M1307 860.5h2M229 861.5h2M402 861.5h9M1369 861.5h2M231 862.5h2M944 862.5h2M233 863.5h2M830 863.5h2M822 867.5h5M950 867.5h2M818 868.5h4M914 869.5h10M924 870.5h4M928 871.5h3M418 873.5h4M422 874.5h16M438 875.5h5M27.5 801v2M28.5 803v2M29.5 805v2M30.5 807v1M31.5 808v2M32.5 810v2M33.5 812v2M34.5 814v1M35.5 815v1M38.5 817v1M39.5 818v1M42.5 820v1M43.5 821v1M44.5 822v1M45.5 823v1M46.5 824v1M47.5 825v1M48.5 826v1M49.5 827v1M50.5 828v1M51.5 827v1M52.5 826v1M53.5 825v1M56.5 823v1M57.5 822v1M58.5 821v1M66.5 818v1M67.5 819v2M68.5 821v3M69.5 824v3M70.5 827v2M71.5 829v3M72.5 832v3M73.5 835v2M74.5 838v1M75.5 836v1M76.5 834v2M77.5 832v2M78.5 830v2M79.5 828v2M80.5 826v2M81.5 824v2M82.5 823v1M91.5 828v2M92.5 830v2M93.5 832v2M94.5 834v2M95.5 836v2M96.5 838v2M97.5 840v2M98.5 842v1M99.5 843v1M100.5 844v1M101.5 845v1M102.5 846v2M103.5 848v1M104.5 849v1M105.5 850v1M106.5 851v1M107.5 849v2M108.5 847v2M109.5 845v2M110.5 844v1M111.5 842v2M112.5 840v2M113.5 838v2M114.5 837v1M115.5 838v1M118.5 840v1M119.5 841v1M122.5 843v1M123.5 844v2M124.5 846v1M125.5 847v2M126.5 849v1M127.5 850v2M128.5 852v1M129.5 853v2M130.5 855v1M133.5 857v1M138.5 860v1M141.5 858v1M171.5 857v2M172.5 855v2M173.5 854v1M174.5 852v2M175.5 851v1M176.5 849v2M177.5 847v2M178.5 846v1M181.5 844v1M186.5 841v1M187.5 842v2M188.5 844v2M189.5 846v2M190.5 848v1M191.5 849v2M192.5 851v2M193.5 853v2M221.5 856v1M226.5 859v1M235.5 861v2M236.5 860v1M237.5 859v1M238.5 857v2M239.5 856v1M240.5 855v1M241.5 853v2M267.5 851v2M268.5 849v2M269.5 847v2M270.5 845v2M271.5 843v2M272.5 841v2M273.5 839v2M274.5 838v1M291.5 841v2M292.5 843v2M293.5 845v2M294.5 847v1M295.5 848v2M296.5 850v2M297.5 852v2M298.5 854v1M301.5 852v1M347.5 843v2M348.5 841v2M349.5 839v2M350.5 837v2M351.5 835v2M352.5 833v2M353.5 831v2M354.5 830v1M363.5 835v2M364.5 837v2M365.5 839v2M366.5 841v1M367.5 842v2M368.5 844v2M369.5 846v2M395.5 850v2M396.5 852v1M397.5 853v2M398.5 855v1M399.5 856v2M400.5 858v1M401.5 859v2M411.5 862v2M412.5 864v1M413.5 865v2M414.5 867v1M415.5 868v2M416.5 870v1M417.5 871v2M443.5 873v2M444.5 871v2M445.5 869v2M446.5 868v1M447.5 866v2M448.5 864v2M449.5 862v2M450.5 861v1M451.5 860v1M454.5 858v1M455.5 857v1M458.5 855v1M475.5 850v2M476.5 849v1M477.5 847v2M478.5 846v1M479.5 844v2M480.5 843v1M481.5 841v2M482.5 840v1M507.5 849v2M508.5 848v1M509.5 846v2M510.5 845v1M511.5 843v2M512.5 842v1M513.5 840v2M514.5 839v1M515.5 838v1M518.5 836v1M519.5 835v1M522.5 833v1M531.5 838v1M534.5 840v1M535.5 841v1M538.5 843v1M539.5 841v2M540.5 839v2M541.5 838v1M542.5 836v2M543.5 835v1M544.5 833v2M545.5 831v2M555.5 828v1M556.5 829v2M557.5 831v1M558.5 832v1M559.5 833v1M560.5 834v2M561.5 836v1M562.5 837v1M565.5 839v1M570.5 842v1M571.5 843v1M572.5 844v1M573.5 845v1M574.5 846v2M575.5 848v1M576.5 849v1M577.5 850v1M587.5 848v1M588.5 846v2M589.5 845v1M590.5 844v1M591.5 843v1M592.5 841v2M593.5 840v1M594.5 839v1M595.5 840v1M598.5 842v1M599.5 843v1M602.5 845v1M603.5 844v1M604.5 842v2M605.5 841v1M606.5 840v1M607.5 839v1M608.5 837v2M609.5 836v1M619.5 833v2M620.5 835v1M621.5 836v2M622.5 838v1M623.5 839v2M624.5 841v1M625.5 842v2M626.5 844v1M627.5 843v1M628.5 842v1M629.5 841v1M632.5 839v1M633.5 838v1M643.5 836v1M646.5 834v1M647.5 833v1M650.5 831v1M651.5 830v1M652.5 829v1M653.5 828v1M656.5 826v1M657.5 825v1M658.5 824v1M659.5 825v1M660.5 826v1M661.5 827v1M662.5 828v1M663.5 829v1M664.5 830v1M665.5 831v1M682.5 831v1M683.5 832v2M684.5 834v2M685.5 836v2M686.5 838v2M687.5 840v2M688.5 842v2M689.5 844v2M690.5 846v1M699.5 849v1M700.5 848v1M701.5 847v1M704.5 845v1M705.5 844v1M715.5 840v1M716.5 839v1M717.5 838v1M718.5 837v1M719.5 836v1M720.5 835v1M721.5 834v1M739.5 831v1M742.5 833v1M743.5 834v1M779.5 839v2M780.5 838v1M781.5 837v1M782.5 835v2M783.5 834v1M784.5 833v1M785.5 831v2M794.5 829v1M795.5 830v3M796.5 833v2M797.5 835v3M798.5 838v3M799.5 841v3M800.5 844v2M801.5 846v3M802.5 849v2M805.5 852v1M810.5 855v1M811.5 856v2M812.5 858v2M813.5 860v1M814.5 861v2M815.5 863v1M816.5 864v2M817.5 866v2M827.5 866v1M828.5 865v1M829.5 864v1M832.5 862v1M833.5 861v1M834.5 860v1M835.5 859v1M836.5 858v1M837.5 857v1M838.5 855v2M839.5 854v1M840.5 853v1M841.5 852v1M867.5 853v2M868.5 852v1M869.5 851v1M870.5 849v2M871.5 848v1M872.5 847v1M873.5 845v2M874.5 844v1M877.5 842v1M882.5 839v1M883.5 840v1M886.5 842v1M887.5 843v1M890.5 845v1M891.5 846v1M894.5 848v1M895.5 849v1M898.5 851v1M906.5 848v1M907.5 849v3M908.5 852v2M909.5 854v3M910.5 857v3M911.5 860v3M912.5 863v2M913.5 865v3M914.5 868v1M931.5 869v2M932.5 867v2M933.5 865v2M934.5 864v1M935.5 862v2M936.5 860v2M937.5 858v2M938.5 857v1M939.5 858v1M942.5 860v1M943.5 861v1M946.5 863v1M947.5 864v1M948.5 865v1M949.5 866v1M952.5 868v1M953.5 869v1M954.5 870v1M955.5 868v2M956.5 866v2M957.5 865v1M958.5 863v2M959.5 862v1M960.5 860v2M961.5 858v2M962.5 857v1M987.5 844v2M988.5 842v2M989.5 841v1M990.5 839v2M991.5 838v1M992.5 836v2M993.5 834v2M1003.5 834v1M1004.5 835v1M1005.5 836v1M1008.5 838v1M1009.5 839v1M1051.5 836v2M1052.5 834v2M1053.5 832v2M1054.5 830v2M1055.5 828v2M1056.5 826v2M1057.5 824v2M1058.5 822v2M1061.5 820v1M1066.5 817v1M1069.5 815v1M1083.5 811v1M1084.5 812v1M1085.5 813v1M1086.5 814v2M1087.5 816v1M1088.5 817v1M1089.5 818v1M1107.5 814v2M1108.5 816v1M1109.5 817v1M1110.5 818v2M1111.5 820v1M1112.5 821v1M1113.5 822v2M1114.5 824v1M1115.5 825v1M1118.5 827v1M1119.5 828v1M1131.5 826v1M1132.5 825v1M1133.5 824v1M1136.5 822v1M1137.5 821v1M1138.5 820v1M1139.5 819v1M1142.5 817v1M1143.5 816v1M1146.5 814v1M1147.5 815v1M1148.5 816v1M1149.5 817v1M1150.5 818v2M1151.5 820v1M1152.5 821v1M1153.5 822v1M1171.5 830v1M1172.5 831v2M1173.5 833v1M1174.5 834v1M1175.5 835v1M1176.5 836v2M1177.5 838v1M1189.5 839v1M1194.5 842v1M1195.5 843v1M1196.5 844v1M1197.5 845v1M1198.5 846v1M1199.5 847v1M1200.5 848v1M1201.5 849v1M1202.5 850v1M1203.5 849v1M1206.5 847v1M1207.5 846v1M1210.5 844v1M1211.5 845v1M1214.5 847v1M1215.5 848v1M1218.5 850v1M1251.5 842v1M1252.5 843v1M1253.5 844v1M1254.5 845v2M1255.5 847v1M1256.5 848v1M1257.5 849v1M1258.5 850v1M1259.5 849v1M1260.5 847v2M1261.5 846v1M1262.5 845v1M1263.5 844v1M1264.5 842v2M1265.5 841v1M1275.5 840v2M1276.5 842v2M1277.5 844v2M1278.5 846v1M1279.5 847v2M1280.5 849v2M1281.5 851v2M1299.5 856v1M1302.5 858v1M1303.5 859v1M1306.5 861v1M1323.5 853v2M1324.5 851v2M1325.5 849v2M1326.5 848v1M1327.5 846v2M1328.5 844v2M1329.5 842v2M1330.5 841v1M1333.5 839v1M1338.5 836v1M1339.5 838v2M1340.5 840v2M1341.5 842v3M1342.5 845v2M1343.5 847v3M1344.5 850v2M1345.5 852v2M1346.5 854v1M1363.5 854v1M1364.5 855v1M1365.5 856v1M1366.5 857v2M1367.5 859v1M1368.5 860v1M1370.5 862v1M1371.5 858v3M1372.5 855v3M1373.5 852v3M1374.5 848v4M1375.5 845v3M1376.5 842v3M1377.5 839v3M1378.5 838v1M1403.5 829v1M1404.5 828v1M1405.5 827v1M1406.5 825v2M1407.5 824v1M1408.5 823v1M1409.5 822v1M1427.5 821v2M1428.5 823v1M1429.5 824v2M1430.5 826v1M1431.5 827v2M1432.5 829v1M1433.5 830v2" fill="none" stroke="#1e90ff" stroke-width="1" shape-rendering="crispEdges"/>
<line x1="1365.2" y1="860.6" x2="1415.7" y2="824.3" stroke="#ff0000" stroke-width="3" stroke-linecap="round" shape-rendering="crispEdges"/>
<polygon points="1425.4,817.3 1418.3,828.0 1413.0,820.7" fill="#ff0000" shape-rendering="crispEdges"/>
<line x1="1425.4" y1="817.3" x2="1440.4" y2="833.2" stroke="#ff0000" stroke-width="3" stroke-linecap="round" shape-rendering="crispEdges"/>
<polygon points="1447.9,841.2 1437.1,836.3 1443.6,830.1" fill="#ff0000" shape-rendering="crispEdges"/>
</g>
<text class="ax" x="6.5" y="767.0" textLength="68.1" lengthAdjust="spacingAndGlyphs" xml:space="preserve" >RSI(14) 53.2858</text>
<text class="ax" x="1664.0" y="765.1" textLength="15.3" lengthAdjust="spacingAndGlyphs" xml:space="preserve" >100</text>
<text class="ax" x="1664.0" y="793.8" textLength="10.2" lengthAdjust="spacingAndGlyphs" xml:space="preserve" >80</text>
<text class="ax" x="1664.0" y="845.2" textLength="10.2" lengthAdjust="spacingAndGlyphs" xml:space="preserve" >50</text>
<text class="ax" x="1664.0" y="906.2" textLength="10.2" lengthAdjust="spacingAndGlyphs" xml:space="preserve" >15</text>
<text class="ax" x="1664.0" y="925.5" textLength="5.1" lengthAdjust="spacingAndGlyphs" xml:space="preserve" >0</text>
<g shape-rendering="crispEdges" fill="#000">
<rect x="2" y="929" width="1" height="3"/>
<rect x="66" y="929" width="1" height="3"/>
<rect x="130" y="929" width="1" height="3"/>
<rect x="194" y="929" width="1" height="3"/>
<rect x="258" y="929" width="1" height="3"/>
<rect x="322" y="929" width="1" height="3"/>
<rect x="386" y="929" width="1" height="3"/>
<rect x="450" y="929" width="1" height="3"/>
<rect x="514" y="929" width="1" height="3"/>
<rect x="578" y="929" width="1" height="3"/>
<rect x="642" y="929" width="1" height="3"/>
<rect x="706" y="929" width="1" height="3"/>
<rect x="770" y="929" width="1" height="3"/>
<rect x="834" y="929" width="1" height="3"/>
<rect x="898" y="929" width="1" height="3"/>
<rect x="962" y="929" width="1" height="3"/>
<rect x="1026" y="929" width="1" height="3"/>
<rect x="1090" y="929" width="1" height="3"/>
<rect x="1154" y="929" width="1" height="3"/>
<rect x="1218" y="929" width="1" height="3"/>
<rect x="1282" y="929" width="1" height="3"/>
<rect x="1346" y="929" width="1" height="3"/>
<rect x="1410" y="929" width="1" height="3"/>
</g>
<text class="ax" x="1.7" y="940.7" textLength="51.3" lengthAdjust="spacingAndGlyphs" xml:space="preserve" >16 Feb 2021</text>
<text class="ax" x="65.7" y="940.7" textLength="54.6" lengthAdjust="spacingAndGlyphs" xml:space="preserve" >22 Feb 01:15</text>
<text class="ax" x="129.7" y="940.7" textLength="54.6" lengthAdjust="spacingAndGlyphs" xml:space="preserve" >26 Feb 01:15</text>
<text class="ax" x="193.7" y="940.7" textLength="50.0" lengthAdjust="spacingAndGlyphs" xml:space="preserve" >4 Mar 01:15</text>
<text class="ax" x="257.7" y="940.7" textLength="55.1" lengthAdjust="spacingAndGlyphs" xml:space="preserve" >10 Mar 01:15</text>
<text class="ax" x="321.7" y="940.7" textLength="55.1" lengthAdjust="spacingAndGlyphs" xml:space="preserve" >16 Mar 01:15</text>
<text class="ax" x="385.7" y="940.7" textLength="55.1" lengthAdjust="spacingAndGlyphs" xml:space="preserve" >22 Mar 01:15</text>
<text class="ax" x="449.7" y="940.7" textLength="55.1" lengthAdjust="spacingAndGlyphs" xml:space="preserve" >26 Mar 01:15</text>
<text class="ax" x="513.7" y="940.7" textLength="48.7" lengthAdjust="spacingAndGlyphs" xml:space="preserve" >1 Apr 01:15</text>
<text class="ax" x="577.7" y="940.7" textLength="53.8" lengthAdjust="spacingAndGlyphs" xml:space="preserve" >12 Apr 01:15</text>
<text class="ax" x="641.7" y="940.7" textLength="53.8" lengthAdjust="spacingAndGlyphs" xml:space="preserve" >16 Apr 01:15</text>
<text class="ax" x="705.7" y="940.7" textLength="53.8" lengthAdjust="spacingAndGlyphs" xml:space="preserve" >22 Apr 01:15</text>
<text class="ax" x="769.7" y="940.7" textLength="53.8" lengthAdjust="spacingAndGlyphs" xml:space="preserve" >28 Apr 01:15</text>
<text class="ax" x="833.7" y="940.7" textLength="51.3" lengthAdjust="spacingAndGlyphs" xml:space="preserve" >4 May 01:15</text>
<text class="ax" x="897.7" y="940.7" textLength="56.4" lengthAdjust="spacingAndGlyphs" xml:space="preserve" >10 May 01:15</text>
<text class="ax" x="961.7" y="940.7" textLength="56.4" lengthAdjust="spacingAndGlyphs" xml:space="preserve" >14 May 01:15</text>
<text class="ax" x="1025.7" y="940.7" textLength="56.4" lengthAdjust="spacingAndGlyphs" xml:space="preserve" >21 May 01:15</text>
<text class="ax" x="1089.7" y="940.7" textLength="56.4" lengthAdjust="spacingAndGlyphs" xml:space="preserve" >27 May 01:15</text>
<text class="ax" x="1153.7" y="940.7" textLength="48.9" lengthAdjust="spacingAndGlyphs" xml:space="preserve" >2 Jun 01:15</text>
<text class="ax" x="1217.7" y="940.7" textLength="48.9" lengthAdjust="spacingAndGlyphs" xml:space="preserve" >8 Jun 01:15</text>
<text class="ax" x="1281.7" y="940.7" textLength="54.0" lengthAdjust="spacingAndGlyphs" xml:space="preserve" >15 Jun 01:15</text>
<text class="ax" x="1345.7" y="940.7" textLength="54.0" lengthAdjust="spacingAndGlyphs" xml:space="preserve" >21 Jun 01:15</text>
<text class="ax" x="1409.7" y="940.7" textLength="54.0" lengthAdjust="spacingAndGlyphs" xml:space="preserve" >25 Jun 01:15</text>
</svg></body></html>
